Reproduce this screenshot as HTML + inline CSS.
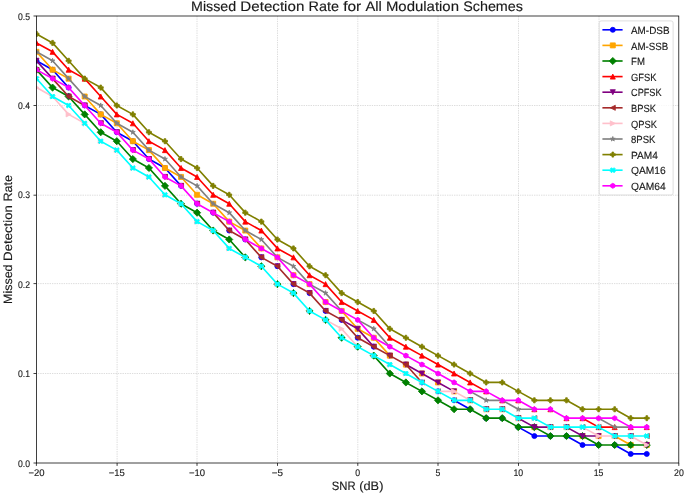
<!DOCTYPE html>
<html><head><meta charset="utf-8"><title>Missed Detection Rate for All Modulation Schemes</title>
<style>html,body{margin:0;padding:0;background:#fff;width:685px;height:493px;overflow:hidden}svg{display:block;will-change:transform;text-rendering:geometricPrecision;font-family:"Liberation Sans",sans-serif}</style></head><body>
<svg width="685" height="493" viewBox="0 0 685 493">
<rect width="685" height="493" fill="#fff"/>
<line x1="117.1" y1="16" x2="117.1" y2="463" stroke="#b0b0b0" stroke-width="0.66" stroke-dasharray="0.66 1.08"/>
<line x1="197" y1="16" x2="197" y2="463" stroke="#b0b0b0" stroke-width="0.66" stroke-dasharray="0.66 1.08"/>
<line x1="277.5" y1="16" x2="277.5" y2="463" stroke="#b0b0b0" stroke-width="0.66" stroke-dasharray="0.66 1.08"/>
<line x1="357.8" y1="16" x2="357.8" y2="463" stroke="#b0b0b0" stroke-width="0.66" stroke-dasharray="0.66 1.08"/>
<line x1="438" y1="16" x2="438" y2="463" stroke="#b0b0b0" stroke-width="0.66" stroke-dasharray="0.66 1.08"/>
<line x1="518.5" y1="16" x2="518.5" y2="463" stroke="#b0b0b0" stroke-width="0.66" stroke-dasharray="0.66 1.08"/>
<line x1="599" y1="16" x2="599" y2="463" stroke="#b0b0b0" stroke-width="0.66" stroke-dasharray="0.66 1.08"/>
<line x1="36.4" y1="373.5" x2="678.8" y2="373.5" stroke="#b0b0b0" stroke-width="0.66" stroke-dasharray="0.66 1.08"/>
<line x1="36.4" y1="283.6" x2="678.8" y2="283.6" stroke="#b0b0b0" stroke-width="0.66" stroke-dasharray="0.66 1.08"/>
<line x1="36.4" y1="195.2" x2="678.8" y2="195.2" stroke="#b0b0b0" stroke-width="0.66" stroke-dasharray="0.66 1.08"/>
<line x1="36.4" y1="105.5" x2="678.8" y2="105.5" stroke="#b0b0b0" stroke-width="0.66" stroke-dasharray="0.66 1.08"/>
<defs><clipPath id="pc"><rect x="36.4" y="16" width="642.4" height="447"/></clipPath></defs>
<g clip-path="url(#pc)">
<path d="M36.5 60.78L52.56 69.71L68.62 87.58M84.68 105.45L100.74 114.38L116.8 132.26L132.86 141.19L148.92 159.06L164.98 168L181.04 185.87M454.06 400.31L470.12 409.24M518.3 427.11L534.36 436.05L550.42 436.05M566.48 436.05L582.54 444.98L598.6 444.98M614.66 444.98L630.72 453.92L646.78 453.92" fill="none" stroke="#0000ff" stroke-width="1.64" stroke-linejoin="round" stroke-linecap="round"/>
<circle cx="36.5" cy="60.78" r="2.52" fill="#0000ff" stroke="#0000ff" stroke-width="0.82"/>
<circle cx="52.56" cy="69.71" r="2.52" fill="#0000ff" stroke="#0000ff" stroke-width="0.82"/>
<circle cx="68.62" cy="87.58" r="2.52" fill="#0000ff" stroke="#0000ff" stroke-width="0.82"/>
<circle cx="84.68" cy="105.45" r="2.52" fill="#0000ff" stroke="#0000ff" stroke-width="0.82"/>
<circle cx="100.74" cy="114.38" r="2.52" fill="#0000ff" stroke="#0000ff" stroke-width="0.82"/>
<circle cx="116.8" cy="132.26" r="2.52" fill="#0000ff" stroke="#0000ff" stroke-width="0.82"/>
<circle cx="132.86" cy="141.19" r="2.52" fill="#0000ff" stroke="#0000ff" stroke-width="0.82"/>
<circle cx="148.92" cy="159.06" r="2.52" fill="#0000ff" stroke="#0000ff" stroke-width="0.82"/>
<circle cx="164.98" cy="168" r="2.52" fill="#0000ff" stroke="#0000ff" stroke-width="0.82"/>
<circle cx="181.04" cy="185.87" r="2.52" fill="#0000ff" stroke="#0000ff" stroke-width="0.82"/>
<circle cx="197.1" cy="203.74" r="2.52" fill="#0000ff" stroke="#0000ff" stroke-width="0.82"/>
<circle cx="213.16" cy="212.67" r="2.52" fill="#0000ff" stroke="#0000ff" stroke-width="0.82"/>
<circle cx="229.22" cy="230.54" r="2.52" fill="#0000ff" stroke="#0000ff" stroke-width="0.82"/>
<circle cx="245.28" cy="239.48" r="2.52" fill="#0000ff" stroke="#0000ff" stroke-width="0.82"/>
<circle cx="261.34" cy="257.35" r="2.52" fill="#0000ff" stroke="#0000ff" stroke-width="0.82"/>
<circle cx="277.4" cy="266.28" r="2.52" fill="#0000ff" stroke="#0000ff" stroke-width="0.82"/>
<circle cx="293.46" cy="284.15" r="2.52" fill="#0000ff" stroke="#0000ff" stroke-width="0.82"/>
<circle cx="309.52" cy="293.09" r="2.52" fill="#0000ff" stroke="#0000ff" stroke-width="0.82"/>
<circle cx="325.58" cy="310.96" r="2.52" fill="#0000ff" stroke="#0000ff" stroke-width="0.82"/>
<circle cx="341.64" cy="319.89" r="2.52" fill="#0000ff" stroke="#0000ff" stroke-width="0.82"/>
<circle cx="357.7" cy="337.76" r="2.52" fill="#0000ff" stroke="#0000ff" stroke-width="0.82"/>
<circle cx="373.76" cy="346.7" r="2.52" fill="#0000ff" stroke="#0000ff" stroke-width="0.82"/>
<circle cx="389.82" cy="355.63" r="2.52" fill="#0000ff" stroke="#0000ff" stroke-width="0.82"/>
<circle cx="405.88" cy="364.57" r="2.52" fill="#0000ff" stroke="#0000ff" stroke-width="0.82"/>
<circle cx="421.94" cy="382.44" r="2.52" fill="#0000ff" stroke="#0000ff" stroke-width="0.82"/>
<circle cx="438" cy="391.37" r="2.52" fill="#0000ff" stroke="#0000ff" stroke-width="0.82"/>
<circle cx="454.06" cy="400.31" r="2.52" fill="#0000ff" stroke="#0000ff" stroke-width="0.82"/>
<circle cx="470.12" cy="409.24" r="2.52" fill="#0000ff" stroke="#0000ff" stroke-width="0.82"/>
<circle cx="486.18" cy="418.18" r="2.52" fill="#0000ff" stroke="#0000ff" stroke-width="0.82"/>
<circle cx="502.24" cy="418.18" r="2.52" fill="#0000ff" stroke="#0000ff" stroke-width="0.82"/>
<circle cx="518.3" cy="427.11" r="2.52" fill="#0000ff" stroke="#0000ff" stroke-width="0.82"/>
<circle cx="534.36" cy="436.05" r="2.52" fill="#0000ff" stroke="#0000ff" stroke-width="0.82"/>
<circle cx="550.42" cy="436.05" r="2.52" fill="#0000ff" stroke="#0000ff" stroke-width="0.82"/>
<circle cx="566.48" cy="436.05" r="2.52" fill="#0000ff" stroke="#0000ff" stroke-width="0.82"/>
<circle cx="582.54" cy="444.98" r="2.52" fill="#0000ff" stroke="#0000ff" stroke-width="0.82"/>
<circle cx="598.6" cy="444.98" r="2.52" fill="#0000ff" stroke="#0000ff" stroke-width="0.82"/>
<circle cx="614.66" cy="444.98" r="2.52" fill="#0000ff" stroke="#0000ff" stroke-width="0.82"/>
<circle cx="630.72" cy="453.92" r="2.52" fill="#0000ff" stroke="#0000ff" stroke-width="0.82"/>
<circle cx="646.78" cy="453.92" r="2.52" fill="#0000ff" stroke="#0000ff" stroke-width="0.82"/>
<path d="M36.5 51.84L52.56 69.71L68.62 78.65M84.68 96.52L100.74 114.38L116.8 123.32L132.86 141.19L148.92 150.13L164.98 168L181.04 176.93L197.1 194.8L213.16 203.74L229.22 221.61L245.28 230.54L261.34 248.41M341.64 310.96L357.7 328.83L373.76 337.76L389.82 355.63M614.66 436.05L630.72 444.98" fill="none" stroke="#ffa500" stroke-width="1.64" stroke-linejoin="round" stroke-linecap="round"/>
<path d="M33.98 49.32 39.02 49.32 39.02 54.37 33.98 54.37Z" fill="#ffa500" stroke="#ffa500" stroke-width="0.82" stroke-linejoin="miter"/>
<path d="M50.04 67.19 55.09 67.19 55.09 72.24 50.04 72.24Z" fill="#ffa500" stroke="#ffa500" stroke-width="0.82" stroke-linejoin="miter"/>
<path d="M66.09 76.12 71.15 76.12 71.15 81.17 66.09 81.17Z" fill="#ffa500" stroke="#ffa500" stroke-width="0.82" stroke-linejoin="miter"/>
<path d="M82.15 93.99 87.2 93.99 87.2 99.04 82.15 99.04Z" fill="#ffa500" stroke="#ffa500" stroke-width="0.82" stroke-linejoin="miter"/>
<path d="M98.21 111.86 103.27 111.86 103.27 116.91 98.21 116.91Z" fill="#ffa500" stroke="#ffa500" stroke-width="0.82" stroke-linejoin="miter"/>
<path d="M114.27 120.79 119.33 120.79 119.33 125.84 114.27 125.84Z" fill="#ffa500" stroke="#ffa500" stroke-width="0.82" stroke-linejoin="miter"/>
<path d="M130.33 138.67 135.38 138.67 135.38 143.72 130.33 143.72Z" fill="#ffa500" stroke="#ffa500" stroke-width="0.82" stroke-linejoin="miter"/>
<path d="M146.39 147.6 151.44 147.6 151.44 152.65 146.39 152.65Z" fill="#ffa500" stroke="#ffa500" stroke-width="0.82" stroke-linejoin="miter"/>
<path d="M162.45 165.47 167.5 165.47 167.5 170.52 162.45 170.52Z" fill="#ffa500" stroke="#ffa500" stroke-width="0.82" stroke-linejoin="miter"/>
<path d="M178.51 174.41 183.56 174.41 183.56 179.46 178.51 179.46Z" fill="#ffa500" stroke="#ffa500" stroke-width="0.82" stroke-linejoin="miter"/>
<path d="M194.57 192.28 199.62 192.28 199.62 197.33 194.57 197.33Z" fill="#ffa500" stroke="#ffa500" stroke-width="0.82" stroke-linejoin="miter"/>
<path d="M210.63 201.21 215.69 201.21 215.69 206.26 210.63 206.26Z" fill="#ffa500" stroke="#ffa500" stroke-width="0.82" stroke-linejoin="miter"/>
<path d="M226.69 219.08 231.74 219.08 231.74 224.13 226.69 224.13Z" fill="#ffa500" stroke="#ffa500" stroke-width="0.82" stroke-linejoin="miter"/>
<path d="M242.75 228.02 247.8 228.02 247.8 233.07 242.75 233.07Z" fill="#ffa500" stroke="#ffa500" stroke-width="0.82" stroke-linejoin="miter"/>
<path d="M258.81 245.89 263.86 245.89 263.86 250.94 258.81 250.94Z" fill="#ffa500" stroke="#ffa500" stroke-width="0.82" stroke-linejoin="miter"/>
<path d="M274.88 254.82 279.92 254.82 279.92 259.87 274.88 259.87Z" fill="#ffa500" stroke="#ffa500" stroke-width="0.82" stroke-linejoin="miter"/>
<path d="M290.94 272.69 295.98 272.69 295.98 277.74 290.94 277.74Z" fill="#ffa500" stroke="#ffa500" stroke-width="0.82" stroke-linejoin="miter"/>
<path d="M307 281.62 312.04 281.62 312.04 286.67 307 286.67Z" fill="#ffa500" stroke="#ffa500" stroke-width="0.82" stroke-linejoin="miter"/>
<path d="M323.06 299.5 328.1 299.5 328.1 304.55 323.06 304.55Z" fill="#ffa500" stroke="#ffa500" stroke-width="0.82" stroke-linejoin="miter"/>
<path d="M339.12 308.43 344.16 308.43 344.16 313.48 339.12 313.48Z" fill="#ffa500" stroke="#ffa500" stroke-width="0.82" stroke-linejoin="miter"/>
<path d="M355.18 326.3 360.22 326.3 360.22 331.35 355.18 331.35Z" fill="#ffa500" stroke="#ffa500" stroke-width="0.82" stroke-linejoin="miter"/>
<path d="M371.24 335.24 376.28 335.24 376.28 340.28 371.24 340.28Z" fill="#ffa500" stroke="#ffa500" stroke-width="0.82" stroke-linejoin="miter"/>
<path d="M387.3 353.11 392.34 353.11 392.34 358.15 387.3 358.15Z" fill="#ffa500" stroke="#ffa500" stroke-width="0.82" stroke-linejoin="miter"/>
<path d="M403.36 362.04 408.4 362.04 408.4 367.09 403.36 367.09Z" fill="#ffa500" stroke="#ffa500" stroke-width="0.82" stroke-linejoin="miter"/>
<path d="M419.41 370.98 424.46 370.98 424.46 376.02 419.41 376.02Z" fill="#ffa500" stroke="#ffa500" stroke-width="0.82" stroke-linejoin="miter"/>
<path d="M435.47 379.91 440.52 379.91 440.52 384.96 435.47 384.96Z" fill="#ffa500" stroke="#ffa500" stroke-width="0.82" stroke-linejoin="miter"/>
<path d="M451.53 388.85 456.58 388.85 456.58 393.89 451.53 393.89Z" fill="#ffa500" stroke="#ffa500" stroke-width="0.82" stroke-linejoin="miter"/>
<path d="M467.59 397.78 472.64 397.78 472.64 402.83 467.59 402.83Z" fill="#ffa500" stroke="#ffa500" stroke-width="0.82" stroke-linejoin="miter"/>
<path d="M483.65 406.72 488.7 406.72 488.7 411.76 483.65 411.76Z" fill="#ffa500" stroke="#ffa500" stroke-width="0.82" stroke-linejoin="miter"/>
<path d="M499.71 406.72 504.76 406.72 504.76 411.76 499.71 411.76Z" fill="#ffa500" stroke="#ffa500" stroke-width="0.82" stroke-linejoin="miter"/>
<path d="M515.77 415.65 520.82 415.65 520.82 420.7 515.77 420.7Z" fill="#ffa500" stroke="#ffa500" stroke-width="0.82" stroke-linejoin="miter"/>
<path d="M531.83 424.59 536.88 424.59 536.88 429.63 531.83 429.63Z" fill="#ffa500" stroke="#ffa500" stroke-width="0.82" stroke-linejoin="miter"/>
<path d="M547.89 424.59 552.94 424.59 552.94 429.63 547.89 429.63Z" fill="#ffa500" stroke="#ffa500" stroke-width="0.82" stroke-linejoin="miter"/>
<path d="M563.95 424.59 569 424.59 569 429.63 563.95 429.63Z" fill="#ffa500" stroke="#ffa500" stroke-width="0.82" stroke-linejoin="miter"/>
<path d="M580.01 433.52 585.06 433.52 585.06 438.57 580.01 438.57Z" fill="#ffa500" stroke="#ffa500" stroke-width="0.82" stroke-linejoin="miter"/>
<path d="M596.07 433.52 601.12 433.52 601.12 438.57 596.07 438.57Z" fill="#ffa500" stroke="#ffa500" stroke-width="0.82" stroke-linejoin="miter"/>
<path d="M612.13 433.52 617.18 433.52 617.18 438.57 612.13 438.57Z" fill="#ffa500" stroke="#ffa500" stroke-width="0.82" stroke-linejoin="miter"/>
<path d="M628.19 442.46 633.24 442.46 633.24 447.5 628.19 447.5Z" fill="#ffa500" stroke="#ffa500" stroke-width="0.82" stroke-linejoin="miter"/>
<path d="M644.25 442.46 649.3 442.46 649.3 447.5 644.25 447.5Z" fill="#ffa500" stroke="#ffa500" stroke-width="0.82" stroke-linejoin="miter"/>
<path d="M36.5 69.71L52.56 87.58L68.62 96.52L84.68 114.38L100.74 132.26L116.8 141.19L132.86 159.06L148.92 168L164.98 185.87L181.04 203.74L197.1 212.67L213.16 230.54L229.22 239.48L245.28 257.35M373.76 355.63L389.82 373.5L405.88 382.44L421.94 391.37L438 400.31L454.06 409.24L470.12 409.24L486.18 418.18L502.24 418.18L518.3 427.11L534.36 427.11L550.42 436.05L566.48 436.05L582.54 436.05L598.6 444.98L614.66 444.98L630.72 444.98L646.78 444.98" fill="none" stroke="#008000" stroke-width="1.64" stroke-linejoin="round" stroke-linecap="round"/>
<path d="M36.5 66.14 40.07 69.71 36.5 73.28 32.93 69.71Z" fill="#008000" stroke="#008000" stroke-width="0.82" stroke-linejoin="miter"/>
<path d="M52.56 84.01 56.13 87.58 52.56 91.15 48.99 87.58Z" fill="#008000" stroke="#008000" stroke-width="0.82" stroke-linejoin="miter"/>
<path d="M68.62 92.94 72.19 96.52 68.62 100.09 65.05 96.52Z" fill="#008000" stroke="#008000" stroke-width="0.82" stroke-linejoin="miter"/>
<path d="M84.68 110.81 88.25 114.38 84.68 117.96 81.11 114.38Z" fill="#008000" stroke="#008000" stroke-width="0.82" stroke-linejoin="miter"/>
<path d="M100.74 128.68 104.31 132.26 100.74 135.83 97.17 132.26Z" fill="#008000" stroke="#008000" stroke-width="0.82" stroke-linejoin="miter"/>
<path d="M116.8 137.62 120.37 141.19 116.8 144.76 113.23 141.19Z" fill="#008000" stroke="#008000" stroke-width="0.82" stroke-linejoin="miter"/>
<path d="M132.86 155.49 136.43 159.06 132.86 162.63 129.29 159.06Z" fill="#008000" stroke="#008000" stroke-width="0.82" stroke-linejoin="miter"/>
<path d="M148.92 164.42 152.49 168 148.92 171.57 145.35 168Z" fill="#008000" stroke="#008000" stroke-width="0.82" stroke-linejoin="miter"/>
<path d="M164.98 182.29 168.55 185.87 164.98 189.44 161.41 185.87Z" fill="#008000" stroke="#008000" stroke-width="0.82" stroke-linejoin="miter"/>
<path d="M181.04 200.16 184.61 203.74 181.04 207.31 177.47 203.74Z" fill="#008000" stroke="#008000" stroke-width="0.82" stroke-linejoin="miter"/>
<path d="M197.1 209.1 200.67 212.67 197.1 216.24 193.53 212.67Z" fill="#008000" stroke="#008000" stroke-width="0.82" stroke-linejoin="miter"/>
<path d="M213.16 226.97 216.73 230.54 213.16 234.11 209.59 230.54Z" fill="#008000" stroke="#008000" stroke-width="0.82" stroke-linejoin="miter"/>
<path d="M229.22 235.9 232.79 239.48 229.22 243.05 225.65 239.48Z" fill="#008000" stroke="#008000" stroke-width="0.82" stroke-linejoin="miter"/>
<path d="M245.28 253.77 248.85 257.35 245.28 260.92 241.71 257.35Z" fill="#008000" stroke="#008000" stroke-width="0.82" stroke-linejoin="miter"/>
<path d="M261.34 262.71 264.91 266.28 261.34 269.85 257.77 266.28Z" fill="#008000" stroke="#008000" stroke-width="0.82" stroke-linejoin="miter"/>
<path d="M277.4 280.58 280.97 284.15 277.4 287.72 273.83 284.15Z" fill="#008000" stroke="#008000" stroke-width="0.82" stroke-linejoin="miter"/>
<path d="M293.46 289.51 297.03 293.09 293.46 296.66 289.89 293.09Z" fill="#008000" stroke="#008000" stroke-width="0.82" stroke-linejoin="miter"/>
<path d="M309.52 307.38 313.09 310.96 309.52 314.53 305.95 310.96Z" fill="#008000" stroke="#008000" stroke-width="0.82" stroke-linejoin="miter"/>
<path d="M325.58 316.32 329.15 319.89 325.58 323.46 322.01 319.89Z" fill="#008000" stroke="#008000" stroke-width="0.82" stroke-linejoin="miter"/>
<path d="M341.64 334.19 345.21 337.76 341.64 341.33 338.07 337.76Z" fill="#008000" stroke="#008000" stroke-width="0.82" stroke-linejoin="miter"/>
<path d="M357.7 343.12 361.27 346.7 357.7 350.27 354.13 346.7Z" fill="#008000" stroke="#008000" stroke-width="0.82" stroke-linejoin="miter"/>
<path d="M373.76 352.06 377.33 355.63 373.76 359.2 370.19 355.63Z" fill="#008000" stroke="#008000" stroke-width="0.82" stroke-linejoin="miter"/>
<path d="M389.82 369.93 393.39 373.5 389.82 377.07 386.25 373.5Z" fill="#008000" stroke="#008000" stroke-width="0.82" stroke-linejoin="miter"/>
<path d="M405.88 378.86 409.45 382.44 405.88 386.01 402.31 382.44Z" fill="#008000" stroke="#008000" stroke-width="0.82" stroke-linejoin="miter"/>
<path d="M421.94 387.8 425.51 391.37 421.94 394.94 418.37 391.37Z" fill="#008000" stroke="#008000" stroke-width="0.82" stroke-linejoin="miter"/>
<path d="M438 396.73 441.57 400.31 438 403.88 434.43 400.31Z" fill="#008000" stroke="#008000" stroke-width="0.82" stroke-linejoin="miter"/>
<path d="M454.06 405.67 457.63 409.24 454.06 412.81 450.49 409.24Z" fill="#008000" stroke="#008000" stroke-width="0.82" stroke-linejoin="miter"/>
<path d="M470.12 405.67 473.69 409.24 470.12 412.81 466.55 409.24Z" fill="#008000" stroke="#008000" stroke-width="0.82" stroke-linejoin="miter"/>
<path d="M486.18 414.6 489.75 418.18 486.18 421.75 482.61 418.18Z" fill="#008000" stroke="#008000" stroke-width="0.82" stroke-linejoin="miter"/>
<path d="M502.24 414.6 505.81 418.18 502.24 421.75 498.67 418.18Z" fill="#008000" stroke="#008000" stroke-width="0.82" stroke-linejoin="miter"/>
<path d="M518.3 423.54 521.87 427.11 518.3 430.68 514.73 427.11Z" fill="#008000" stroke="#008000" stroke-width="0.82" stroke-linejoin="miter"/>
<path d="M534.36 423.54 537.93 427.11 534.36 430.68 530.79 427.11Z" fill="#008000" stroke="#008000" stroke-width="0.82" stroke-linejoin="miter"/>
<path d="M550.42 432.47 553.99 436.05 550.42 439.62 546.85 436.05Z" fill="#008000" stroke="#008000" stroke-width="0.82" stroke-linejoin="miter"/>
<path d="M566.48 432.47 570.05 436.05 566.48 439.62 562.91 436.05Z" fill="#008000" stroke="#008000" stroke-width="0.82" stroke-linejoin="miter"/>
<path d="M582.54 432.47 586.11 436.05 582.54 439.62 578.97 436.05Z" fill="#008000" stroke="#008000" stroke-width="0.82" stroke-linejoin="miter"/>
<path d="M598.6 441.41 602.17 444.98 598.6 448.55 595.03 444.98Z" fill="#008000" stroke="#008000" stroke-width="0.82" stroke-linejoin="miter"/>
<path d="M614.66 441.41 618.23 444.98 614.66 448.55 611.09 444.98Z" fill="#008000" stroke="#008000" stroke-width="0.82" stroke-linejoin="miter"/>
<path d="M630.72 441.41 634.29 444.98 630.72 448.55 627.15 444.98Z" fill="#008000" stroke="#008000" stroke-width="0.82" stroke-linejoin="miter"/>
<path d="M646.78 441.41 650.35 444.98 646.78 448.55 643.21 444.98Z" fill="#008000" stroke="#008000" stroke-width="0.82" stroke-linejoin="miter"/>
<path d="M36.5 42.91L52.56 51.84L68.62 69.71L84.68 78.65L100.74 96.52L116.8 114.38L132.86 123.32L148.92 141.19L164.98 150.13L181.04 168L197.1 176.93L213.16 194.8L229.22 203.74L245.28 221.61L261.34 230.54L277.4 248.41L293.46 257.35L309.52 275.22L325.58 284.15L341.64 302.02L357.7 310.96L373.76 319.89L389.82 337.76L405.88 346.7L421.94 355.63L438 364.57L454.06 373.5L470.12 382.44L486.18 391.37M582.54 418.18L598.6 427.11L614.66 427.11" fill="none" stroke="#ff0000" stroke-width="1.64" stroke-linejoin="round" stroke-linecap="round"/>
<path d="M36.5 40.38 33.98 45.43 39.02 45.43Z" fill="#ff0000" stroke="#ff0000" stroke-width="0.82" stroke-linejoin="miter"/>
<path d="M52.56 49.32 50.04 54.37 55.09 54.37Z" fill="#ff0000" stroke="#ff0000" stroke-width="0.82" stroke-linejoin="miter"/>
<path d="M68.62 67.19 66.09 72.24 71.15 72.24Z" fill="#ff0000" stroke="#ff0000" stroke-width="0.82" stroke-linejoin="miter"/>
<path d="M84.68 76.12 82.15 81.17 87.2 81.17Z" fill="#ff0000" stroke="#ff0000" stroke-width="0.82" stroke-linejoin="miter"/>
<path d="M100.74 93.99 98.21 99.04 103.27 99.04Z" fill="#ff0000" stroke="#ff0000" stroke-width="0.82" stroke-linejoin="miter"/>
<path d="M116.8 111.86 114.27 116.91 119.33 116.91Z" fill="#ff0000" stroke="#ff0000" stroke-width="0.82" stroke-linejoin="miter"/>
<path d="M132.86 120.79 130.33 125.84 135.38 125.84Z" fill="#ff0000" stroke="#ff0000" stroke-width="0.82" stroke-linejoin="miter"/>
<path d="M148.92 138.67 146.39 143.72 151.44 143.72Z" fill="#ff0000" stroke="#ff0000" stroke-width="0.82" stroke-linejoin="miter"/>
<path d="M164.98 147.6 162.45 152.65 167.5 152.65Z" fill="#ff0000" stroke="#ff0000" stroke-width="0.82" stroke-linejoin="miter"/>
<path d="M181.04 165.47 178.51 170.52 183.56 170.52Z" fill="#ff0000" stroke="#ff0000" stroke-width="0.82" stroke-linejoin="miter"/>
<path d="M197.1 174.41 194.57 179.46 199.62 179.46Z" fill="#ff0000" stroke="#ff0000" stroke-width="0.82" stroke-linejoin="miter"/>
<path d="M213.16 192.28 210.63 197.33 215.69 197.33Z" fill="#ff0000" stroke="#ff0000" stroke-width="0.82" stroke-linejoin="miter"/>
<path d="M229.22 201.21 226.69 206.26 231.74 206.26Z" fill="#ff0000" stroke="#ff0000" stroke-width="0.82" stroke-linejoin="miter"/>
<path d="M245.28 219.08 242.75 224.13 247.8 224.13Z" fill="#ff0000" stroke="#ff0000" stroke-width="0.82" stroke-linejoin="miter"/>
<path d="M261.34 228.02 258.81 233.07 263.86 233.07Z" fill="#ff0000" stroke="#ff0000" stroke-width="0.82" stroke-linejoin="miter"/>
<path d="M277.4 245.89 274.88 250.94 279.92 250.94Z" fill="#ff0000" stroke="#ff0000" stroke-width="0.82" stroke-linejoin="miter"/>
<path d="M293.46 254.82 290.94 259.87 295.98 259.87Z" fill="#ff0000" stroke="#ff0000" stroke-width="0.82" stroke-linejoin="miter"/>
<path d="M309.52 272.69 307 277.74 312.04 277.74Z" fill="#ff0000" stroke="#ff0000" stroke-width="0.82" stroke-linejoin="miter"/>
<path d="M325.58 281.62 323.06 286.67 328.1 286.67Z" fill="#ff0000" stroke="#ff0000" stroke-width="0.82" stroke-linejoin="miter"/>
<path d="M341.64 299.5 339.12 304.55 344.16 304.55Z" fill="#ff0000" stroke="#ff0000" stroke-width="0.82" stroke-linejoin="miter"/>
<path d="M357.7 308.43 355.18 313.48 360.22 313.48Z" fill="#ff0000" stroke="#ff0000" stroke-width="0.82" stroke-linejoin="miter"/>
<path d="M373.76 317.37 371.24 322.41 376.28 322.41Z" fill="#ff0000" stroke="#ff0000" stroke-width="0.82" stroke-linejoin="miter"/>
<path d="M389.82 335.24 387.3 340.28 392.34 340.28Z" fill="#ff0000" stroke="#ff0000" stroke-width="0.82" stroke-linejoin="miter"/>
<path d="M405.88 344.17 403.36 349.22 408.4 349.22Z" fill="#ff0000" stroke="#ff0000" stroke-width="0.82" stroke-linejoin="miter"/>
<path d="M421.94 353.11 419.41 358.15 424.46 358.15Z" fill="#ff0000" stroke="#ff0000" stroke-width="0.82" stroke-linejoin="miter"/>
<path d="M438 362.04 435.47 367.09 440.52 367.09Z" fill="#ff0000" stroke="#ff0000" stroke-width="0.82" stroke-linejoin="miter"/>
<path d="M454.06 370.98 451.53 376.02 456.58 376.02Z" fill="#ff0000" stroke="#ff0000" stroke-width="0.82" stroke-linejoin="miter"/>
<path d="M470.12 379.91 467.59 384.96 472.64 384.96Z" fill="#ff0000" stroke="#ff0000" stroke-width="0.82" stroke-linejoin="miter"/>
<path d="M486.18 388.85 483.65 393.89 488.7 393.89Z" fill="#ff0000" stroke="#ff0000" stroke-width="0.82" stroke-linejoin="miter"/>
<path d="M502.24 397.78 499.71 402.83 504.76 402.83Z" fill="#ff0000" stroke="#ff0000" stroke-width="0.82" stroke-linejoin="miter"/>
<path d="M518.3 397.78 515.77 402.83 520.82 402.83Z" fill="#ff0000" stroke="#ff0000" stroke-width="0.82" stroke-linejoin="miter"/>
<path d="M534.36 406.72 531.83 411.76 536.88 411.76Z" fill="#ff0000" stroke="#ff0000" stroke-width="0.82" stroke-linejoin="miter"/>
<path d="M550.42 406.72 547.89 411.76 552.94 411.76Z" fill="#ff0000" stroke="#ff0000" stroke-width="0.82" stroke-linejoin="miter"/>
<path d="M566.48 415.65 563.95 420.7 569 420.7Z" fill="#ff0000" stroke="#ff0000" stroke-width="0.82" stroke-linejoin="miter"/>
<path d="M582.54 415.65 580.01 420.7 585.06 420.7Z" fill="#ff0000" stroke="#ff0000" stroke-width="0.82" stroke-linejoin="miter"/>
<path d="M598.6 424.59 596.07 429.63 601.12 429.63Z" fill="#ff0000" stroke="#ff0000" stroke-width="0.82" stroke-linejoin="miter"/>
<path d="M614.66 424.59 612.13 429.63 617.18 429.63Z" fill="#ff0000" stroke="#ff0000" stroke-width="0.82" stroke-linejoin="miter"/>
<path d="M630.72 424.59 628.19 429.63 633.24 429.63Z" fill="#ff0000" stroke="#ff0000" stroke-width="0.82" stroke-linejoin="miter"/>
<path d="M646.78 424.59 644.25 429.63 649.3 429.63Z" fill="#ff0000" stroke="#ff0000" stroke-width="0.82" stroke-linejoin="miter"/>
<path d="M36.5 60.78L52.56 78.65M341.64 319.89L357.7 328.83L373.76 346.7M405.88 364.57L421.94 373.5L438 382.44L454.06 391.37M518.3 418.18L534.36 427.11L550.42 427.11M566.48 427.11L582.54 436.05L598.6 436.05" fill="none" stroke="#800080" stroke-width="1.64" stroke-linejoin="round" stroke-linecap="round"/>
<path d="M36.5 63.3 33.98 58.25 39.02 58.25Z" fill="#800080" stroke="#800080" stroke-width="0.82" stroke-linejoin="miter"/>
<path d="M52.56 81.17 50.04 76.12 55.09 76.12Z" fill="#800080" stroke="#800080" stroke-width="0.82" stroke-linejoin="miter"/>
<path d="M68.62 99.04 66.09 93.99 71.15 93.99Z" fill="#800080" stroke="#800080" stroke-width="0.82" stroke-linejoin="miter"/>
<path d="M84.68 107.97 82.15 102.92 87.2 102.92Z" fill="#800080" stroke="#800080" stroke-width="0.82" stroke-linejoin="miter"/>
<path d="M100.74 125.84 98.21 120.79 103.27 120.79Z" fill="#800080" stroke="#800080" stroke-width="0.82" stroke-linejoin="miter"/>
<path d="M116.8 134.78 114.27 129.73 119.33 129.73Z" fill="#800080" stroke="#800080" stroke-width="0.82" stroke-linejoin="miter"/>
<path d="M132.86 152.65 130.33 147.6 135.38 147.6Z" fill="#800080" stroke="#800080" stroke-width="0.82" stroke-linejoin="miter"/>
<path d="M148.92 161.59 146.39 156.53 151.44 156.53Z" fill="#800080" stroke="#800080" stroke-width="0.82" stroke-linejoin="miter"/>
<path d="M164.98 179.46 162.45 174.41 167.5 174.41Z" fill="#800080" stroke="#800080" stroke-width="0.82" stroke-linejoin="miter"/>
<path d="M181.04 188.39 178.51 183.34 183.56 183.34Z" fill="#800080" stroke="#800080" stroke-width="0.82" stroke-linejoin="miter"/>
<path d="M197.1 206.26 194.57 201.21 199.62 201.21Z" fill="#800080" stroke="#800080" stroke-width="0.82" stroke-linejoin="miter"/>
<path d="M213.16 215.19 210.63 210.14 215.69 210.14Z" fill="#800080" stroke="#800080" stroke-width="0.82" stroke-linejoin="miter"/>
<path d="M229.22 233.07 226.69 228.02 231.74 228.02Z" fill="#800080" stroke="#800080" stroke-width="0.82" stroke-linejoin="miter"/>
<path d="M245.28 242 242.75 236.95 247.8 236.95Z" fill="#800080" stroke="#800080" stroke-width="0.82" stroke-linejoin="miter"/>
<path d="M261.34 259.87 258.81 254.82 263.86 254.82Z" fill="#800080" stroke="#800080" stroke-width="0.82" stroke-linejoin="miter"/>
<path d="M277.4 268.81 274.88 263.76 279.92 263.76Z" fill="#800080" stroke="#800080" stroke-width="0.82" stroke-linejoin="miter"/>
<path d="M293.46 286.67 290.94 281.62 295.98 281.62Z" fill="#800080" stroke="#800080" stroke-width="0.82" stroke-linejoin="miter"/>
<path d="M309.52 295.61 307 290.56 312.04 290.56Z" fill="#800080" stroke="#800080" stroke-width="0.82" stroke-linejoin="miter"/>
<path d="M325.58 313.48 323.06 308.43 328.1 308.43Z" fill="#800080" stroke="#800080" stroke-width="0.82" stroke-linejoin="miter"/>
<path d="M341.64 322.41 339.12 317.37 344.16 317.37Z" fill="#800080" stroke="#800080" stroke-width="0.82" stroke-linejoin="miter"/>
<path d="M357.7 331.35 355.18 326.3 360.22 326.3Z" fill="#800080" stroke="#800080" stroke-width="0.82" stroke-linejoin="miter"/>
<path d="M373.76 349.22 371.24 344.17 376.28 344.17Z" fill="#800080" stroke="#800080" stroke-width="0.82" stroke-linejoin="miter"/>
<path d="M389.82 358.15 387.3 353.11 392.34 353.11Z" fill="#800080" stroke="#800080" stroke-width="0.82" stroke-linejoin="miter"/>
<path d="M405.88 367.09 403.36 362.04 408.4 362.04Z" fill="#800080" stroke="#800080" stroke-width="0.82" stroke-linejoin="miter"/>
<path d="M421.94 376.02 419.41 370.98 424.46 370.98Z" fill="#800080" stroke="#800080" stroke-width="0.82" stroke-linejoin="miter"/>
<path d="M438 384.96 435.47 379.91 440.52 379.91Z" fill="#800080" stroke="#800080" stroke-width="0.82" stroke-linejoin="miter"/>
<path d="M454.06 393.89 451.53 388.85 456.58 388.85Z" fill="#800080" stroke="#800080" stroke-width="0.82" stroke-linejoin="miter"/>
<path d="M470.12 402.83 467.59 397.78 472.64 397.78Z" fill="#800080" stroke="#800080" stroke-width="0.82" stroke-linejoin="miter"/>
<path d="M486.18 411.76 483.65 406.72 488.7 406.72Z" fill="#800080" stroke="#800080" stroke-width="0.82" stroke-linejoin="miter"/>
<path d="M502.24 411.76 499.71 406.72 504.76 406.72Z" fill="#800080" stroke="#800080" stroke-width="0.82" stroke-linejoin="miter"/>
<path d="M518.3 420.7 515.77 415.65 520.82 415.65Z" fill="#800080" stroke="#800080" stroke-width="0.82" stroke-linejoin="miter"/>
<path d="M534.36 429.63 531.83 424.59 536.88 424.59Z" fill="#800080" stroke="#800080" stroke-width="0.82" stroke-linejoin="miter"/>
<path d="M550.42 429.63 547.89 424.59 552.94 424.59Z" fill="#800080" stroke="#800080" stroke-width="0.82" stroke-linejoin="miter"/>
<path d="M566.48 429.63 563.95 424.59 569 424.59Z" fill="#800080" stroke="#800080" stroke-width="0.82" stroke-linejoin="miter"/>
<path d="M582.54 438.57 580.01 433.52 585.06 433.52Z" fill="#800080" stroke="#800080" stroke-width="0.82" stroke-linejoin="miter"/>
<path d="M598.6 438.57 596.07 433.52 601.12 433.52Z" fill="#800080" stroke="#800080" stroke-width="0.82" stroke-linejoin="miter"/>
<path d="M614.66 438.57 612.13 433.52 617.18 433.52Z" fill="#800080" stroke="#800080" stroke-width="0.82" stroke-linejoin="miter"/>
<path d="M630.72 438.57 628.19 433.52 633.24 433.52Z" fill="#800080" stroke="#800080" stroke-width="0.82" stroke-linejoin="miter"/>
<path d="M646.78 447.5 644.25 442.46 649.3 442.46Z" fill="#800080" stroke="#800080" stroke-width="0.82" stroke-linejoin="miter"/>
<path d="M52.56 78.65L68.62 96.52L84.68 105.45M213.16 212.67L229.22 230.54L245.28 239.48L261.34 257.35L277.4 266.28L293.46 284.15L309.52 293.09L325.58 310.96L341.64 319.89L357.7 337.76L373.76 346.7L389.82 355.63L405.88 364.57L421.94 382.44" fill="none" stroke="#a52a2a" stroke-width="1.64" stroke-linejoin="round" stroke-linecap="round"/>
<path d="M33.98 69.71 39.02 67.19 39.02 72.24Z" fill="#a52a2a" stroke="#a52a2a" stroke-width="0.82" stroke-linejoin="miter"/>
<path d="M50.04 78.65 55.09 76.12 55.09 81.17Z" fill="#a52a2a" stroke="#a52a2a" stroke-width="0.82" stroke-linejoin="miter"/>
<path d="M66.09 96.52 71.15 93.99 71.15 99.04Z" fill="#a52a2a" stroke="#a52a2a" stroke-width="0.82" stroke-linejoin="miter"/>
<path d="M82.15 105.45 87.2 102.92 87.2 107.97Z" fill="#a52a2a" stroke="#a52a2a" stroke-width="0.82" stroke-linejoin="miter"/>
<path d="M98.21 123.32 103.27 120.79 103.27 125.84Z" fill="#a52a2a" stroke="#a52a2a" stroke-width="0.82" stroke-linejoin="miter"/>
<path d="M114.27 132.26 119.33 129.73 119.33 134.78Z" fill="#a52a2a" stroke="#a52a2a" stroke-width="0.82" stroke-linejoin="miter"/>
<path d="M130.33 150.13 135.38 147.6 135.38 152.65Z" fill="#a52a2a" stroke="#a52a2a" stroke-width="0.82" stroke-linejoin="miter"/>
<path d="M146.39 159.06 151.44 156.53 151.44 161.59Z" fill="#a52a2a" stroke="#a52a2a" stroke-width="0.82" stroke-linejoin="miter"/>
<path d="M162.45 176.93 167.5 174.41 167.5 179.46Z" fill="#a52a2a" stroke="#a52a2a" stroke-width="0.82" stroke-linejoin="miter"/>
<path d="M178.51 185.87 183.56 183.34 183.56 188.39Z" fill="#a52a2a" stroke="#a52a2a" stroke-width="0.82" stroke-linejoin="miter"/>
<path d="M194.57 203.74 199.62 201.21 199.62 206.26Z" fill="#a52a2a" stroke="#a52a2a" stroke-width="0.82" stroke-linejoin="miter"/>
<path d="M210.63 212.67 215.69 210.14 215.69 215.19Z" fill="#a52a2a" stroke="#a52a2a" stroke-width="0.82" stroke-linejoin="miter"/>
<path d="M226.69 230.54 231.74 228.02 231.74 233.07Z" fill="#a52a2a" stroke="#a52a2a" stroke-width="0.82" stroke-linejoin="miter"/>
<path d="M242.75 239.48 247.8 236.95 247.8 242Z" fill="#a52a2a" stroke="#a52a2a" stroke-width="0.82" stroke-linejoin="miter"/>
<path d="M258.81 257.35 263.86 254.82 263.86 259.87Z" fill="#a52a2a" stroke="#a52a2a" stroke-width="0.82" stroke-linejoin="miter"/>
<path d="M274.88 266.28 279.92 263.76 279.92 268.81Z" fill="#a52a2a" stroke="#a52a2a" stroke-width="0.82" stroke-linejoin="miter"/>
<path d="M290.94 284.15 295.98 281.62 295.98 286.67Z" fill="#a52a2a" stroke="#a52a2a" stroke-width="0.82" stroke-linejoin="miter"/>
<path d="M307 293.09 312.04 290.56 312.04 295.61Z" fill="#a52a2a" stroke="#a52a2a" stroke-width="0.82" stroke-linejoin="miter"/>
<path d="M323.06 310.96 328.1 308.43 328.1 313.48Z" fill="#a52a2a" stroke="#a52a2a" stroke-width="0.82" stroke-linejoin="miter"/>
<path d="M339.12 319.89 344.16 317.37 344.16 322.41Z" fill="#a52a2a" stroke="#a52a2a" stroke-width="0.82" stroke-linejoin="miter"/>
<path d="M355.18 337.76 360.22 335.24 360.22 340.28Z" fill="#a52a2a" stroke="#a52a2a" stroke-width="0.82" stroke-linejoin="miter"/>
<path d="M371.24 346.7 376.28 344.17 376.28 349.22Z" fill="#a52a2a" stroke="#a52a2a" stroke-width="0.82" stroke-linejoin="miter"/>
<path d="M387.3 355.63 392.34 353.11 392.34 358.15Z" fill="#a52a2a" stroke="#a52a2a" stroke-width="0.82" stroke-linejoin="miter"/>
<path d="M403.36 364.57 408.4 362.04 408.4 367.09Z" fill="#a52a2a" stroke="#a52a2a" stroke-width="0.82" stroke-linejoin="miter"/>
<path d="M419.41 382.44 424.46 379.91 424.46 384.96Z" fill="#a52a2a" stroke="#a52a2a" stroke-width="0.82" stroke-linejoin="miter"/>
<path d="M435.47 391.37 440.52 388.85 440.52 393.89Z" fill="#a52a2a" stroke="#a52a2a" stroke-width="0.82" stroke-linejoin="miter"/>
<path d="M451.53 400.31 456.58 397.78 456.58 402.83Z" fill="#a52a2a" stroke="#a52a2a" stroke-width="0.82" stroke-linejoin="miter"/>
<path d="M467.59 400.31 472.64 397.78 472.64 402.83Z" fill="#a52a2a" stroke="#a52a2a" stroke-width="0.82" stroke-linejoin="miter"/>
<path d="M483.65 409.24 488.7 406.72 488.7 411.76Z" fill="#a52a2a" stroke="#a52a2a" stroke-width="0.82" stroke-linejoin="miter"/>
<path d="M499.71 409.24 504.76 406.72 504.76 411.76Z" fill="#a52a2a" stroke="#a52a2a" stroke-width="0.82" stroke-linejoin="miter"/>
<path d="M515.77 418.18 520.82 415.65 520.82 420.7Z" fill="#a52a2a" stroke="#a52a2a" stroke-width="0.82" stroke-linejoin="miter"/>
<path d="M531.83 418.18 536.88 415.65 536.88 420.7Z" fill="#a52a2a" stroke="#a52a2a" stroke-width="0.82" stroke-linejoin="miter"/>
<path d="M547.89 427.11 552.94 424.59 552.94 429.63Z" fill="#a52a2a" stroke="#a52a2a" stroke-width="0.82" stroke-linejoin="miter"/>
<path d="M563.95 427.11 569 424.59 569 429.63Z" fill="#a52a2a" stroke="#a52a2a" stroke-width="0.82" stroke-linejoin="miter"/>
<path d="M580.01 427.11 585.06 424.59 585.06 429.63Z" fill="#a52a2a" stroke="#a52a2a" stroke-width="0.82" stroke-linejoin="miter"/>
<path d="M596.07 427.11 601.12 424.59 601.12 429.63Z" fill="#a52a2a" stroke="#a52a2a" stroke-width="0.82" stroke-linejoin="miter"/>
<path d="M612.13 436.05 617.18 433.52 617.18 438.57Z" fill="#a52a2a" stroke="#a52a2a" stroke-width="0.82" stroke-linejoin="miter"/>
<path d="M628.19 436.05 633.24 433.52 633.24 438.57Z" fill="#a52a2a" stroke="#a52a2a" stroke-width="0.82" stroke-linejoin="miter"/>
<path d="M644.25 436.05 649.3 433.52 649.3 438.57Z" fill="#a52a2a" stroke="#a52a2a" stroke-width="0.82" stroke-linejoin="miter"/>
<path d="M36.5 87.58L52.56 96.52L68.62 114.38L84.68 123.32M325.58 319.89L341.64 328.83L357.7 346.7M438 391.37L454.06 391.37L470.12 400.31M582.54 427.11L598.6 436.05L614.66 436.05M630.72 436.05L646.78 444.98" fill="none" stroke="#ffc0cb" stroke-width="1.64" stroke-linejoin="round" stroke-linecap="round"/>
<path d="M39.02 87.58 33.98 85.06 33.98 90.11Z" fill="#ffc0cb" stroke="#ffc0cb" stroke-width="0.82" stroke-linejoin="miter"/>
<path d="M55.09 96.52 50.04 93.99 50.04 99.04Z" fill="#ffc0cb" stroke="#ffc0cb" stroke-width="0.82" stroke-linejoin="miter"/>
<path d="M71.15 114.38 66.09 111.86 66.09 116.91Z" fill="#ffc0cb" stroke="#ffc0cb" stroke-width="0.82" stroke-linejoin="miter"/>
<path d="M87.2 123.32 82.15 120.79 82.15 125.84Z" fill="#ffc0cb" stroke="#ffc0cb" stroke-width="0.82" stroke-linejoin="miter"/>
<path d="M103.27 141.19 98.21 138.67 98.21 143.72Z" fill="#ffc0cb" stroke="#ffc0cb" stroke-width="0.82" stroke-linejoin="miter"/>
<path d="M119.33 150.13 114.27 147.6 114.27 152.65Z" fill="#ffc0cb" stroke="#ffc0cb" stroke-width="0.82" stroke-linejoin="miter"/>
<path d="M135.38 168 130.33 165.47 130.33 170.52Z" fill="#ffc0cb" stroke="#ffc0cb" stroke-width="0.82" stroke-linejoin="miter"/>
<path d="M151.44 176.93 146.39 174.41 146.39 179.46Z" fill="#ffc0cb" stroke="#ffc0cb" stroke-width="0.82" stroke-linejoin="miter"/>
<path d="M167.5 194.8 162.45 192.28 162.45 197.33Z" fill="#ffc0cb" stroke="#ffc0cb" stroke-width="0.82" stroke-linejoin="miter"/>
<path d="M183.56 203.74 178.51 201.21 178.51 206.26Z" fill="#ffc0cb" stroke="#ffc0cb" stroke-width="0.82" stroke-linejoin="miter"/>
<path d="M199.62 221.61 194.57 219.08 194.57 224.13Z" fill="#ffc0cb" stroke="#ffc0cb" stroke-width="0.82" stroke-linejoin="miter"/>
<path d="M215.69 230.54 210.63 228.02 210.63 233.07Z" fill="#ffc0cb" stroke="#ffc0cb" stroke-width="0.82" stroke-linejoin="miter"/>
<path d="M231.74 248.41 226.69 245.89 226.69 250.94Z" fill="#ffc0cb" stroke="#ffc0cb" stroke-width="0.82" stroke-linejoin="miter"/>
<path d="M247.8 257.35 242.75 254.82 242.75 259.87Z" fill="#ffc0cb" stroke="#ffc0cb" stroke-width="0.82" stroke-linejoin="miter"/>
<path d="M263.86 266.28 258.81 263.76 258.81 268.81Z" fill="#ffc0cb" stroke="#ffc0cb" stroke-width="0.82" stroke-linejoin="miter"/>
<path d="M279.92 284.15 274.88 281.62 274.88 286.67Z" fill="#ffc0cb" stroke="#ffc0cb" stroke-width="0.82" stroke-linejoin="miter"/>
<path d="M295.98 293.09 290.94 290.56 290.94 295.61Z" fill="#ffc0cb" stroke="#ffc0cb" stroke-width="0.82" stroke-linejoin="miter"/>
<path d="M312.04 310.96 307 308.43 307 313.48Z" fill="#ffc0cb" stroke="#ffc0cb" stroke-width="0.82" stroke-linejoin="miter"/>
<path d="M328.1 319.89 323.06 317.37 323.06 322.41Z" fill="#ffc0cb" stroke="#ffc0cb" stroke-width="0.82" stroke-linejoin="miter"/>
<path d="M344.16 328.83 339.12 326.3 339.12 331.35Z" fill="#ffc0cb" stroke="#ffc0cb" stroke-width="0.82" stroke-linejoin="miter"/>
<path d="M360.22 346.7 355.18 344.17 355.18 349.22Z" fill="#ffc0cb" stroke="#ffc0cb" stroke-width="0.82" stroke-linejoin="miter"/>
<path d="M376.28 355.63 371.24 353.11 371.24 358.15Z" fill="#ffc0cb" stroke="#ffc0cb" stroke-width="0.82" stroke-linejoin="miter"/>
<path d="M392.34 364.57 387.3 362.04 387.3 367.09Z" fill="#ffc0cb" stroke="#ffc0cb" stroke-width="0.82" stroke-linejoin="miter"/>
<path d="M408.4 373.5 403.36 370.98 403.36 376.02Z" fill="#ffc0cb" stroke="#ffc0cb" stroke-width="0.82" stroke-linejoin="miter"/>
<path d="M424.46 382.44 419.41 379.91 419.41 384.96Z" fill="#ffc0cb" stroke="#ffc0cb" stroke-width="0.82" stroke-linejoin="miter"/>
<path d="M440.52 391.37 435.47 388.85 435.47 393.89Z" fill="#ffc0cb" stroke="#ffc0cb" stroke-width="0.82" stroke-linejoin="miter"/>
<path d="M456.58 391.37 451.53 388.85 451.53 393.89Z" fill="#ffc0cb" stroke="#ffc0cb" stroke-width="0.82" stroke-linejoin="miter"/>
<path d="M472.64 400.31 467.59 397.78 467.59 402.83Z" fill="#ffc0cb" stroke="#ffc0cb" stroke-width="0.82" stroke-linejoin="miter"/>
<path d="M488.7 409.24 483.65 406.72 483.65 411.76Z" fill="#ffc0cb" stroke="#ffc0cb" stroke-width="0.82" stroke-linejoin="miter"/>
<path d="M504.76 409.24 499.71 406.72 499.71 411.76Z" fill="#ffc0cb" stroke="#ffc0cb" stroke-width="0.82" stroke-linejoin="miter"/>
<path d="M520.82 418.18 515.77 415.65 515.77 420.7Z" fill="#ffc0cb" stroke="#ffc0cb" stroke-width="0.82" stroke-linejoin="miter"/>
<path d="M536.88 418.18 531.83 415.65 531.83 420.7Z" fill="#ffc0cb" stroke="#ffc0cb" stroke-width="0.82" stroke-linejoin="miter"/>
<path d="M552.94 427.11 547.89 424.59 547.89 429.63Z" fill="#ffc0cb" stroke="#ffc0cb" stroke-width="0.82" stroke-linejoin="miter"/>
<path d="M569 427.11 563.95 424.59 563.95 429.63Z" fill="#ffc0cb" stroke="#ffc0cb" stroke-width="0.82" stroke-linejoin="miter"/>
<path d="M585.06 427.11 580.01 424.59 580.01 429.63Z" fill="#ffc0cb" stroke="#ffc0cb" stroke-width="0.82" stroke-linejoin="miter"/>
<path d="M601.12 436.05 596.07 433.52 596.07 438.57Z" fill="#ffc0cb" stroke="#ffc0cb" stroke-width="0.82" stroke-linejoin="miter"/>
<path d="M617.18 436.05 612.13 433.52 612.13 438.57Z" fill="#ffc0cb" stroke="#ffc0cb" stroke-width="0.82" stroke-linejoin="miter"/>
<path d="M633.24 436.05 628.19 433.52 628.19 438.57Z" fill="#ffc0cb" stroke="#ffc0cb" stroke-width="0.82" stroke-linejoin="miter"/>
<path d="M649.3 444.98 644.25 442.46 644.25 447.5Z" fill="#ffc0cb" stroke="#ffc0cb" stroke-width="0.82" stroke-linejoin="miter"/>
<path d="M36.5 51.84L52.56 60.78L68.62 78.65L84.68 96.52L100.74 105.45L116.8 123.32L132.86 132.26L148.92 150.13L164.98 159.06L181.04 176.93L197.1 185.87L213.16 203.74L229.22 212.67L245.28 230.54L261.34 239.48L277.4 257.35L293.46 266.28L309.52 284.15L325.58 293.09L341.64 310.96M357.7 319.89L373.76 328.83L389.82 346.7M470.12 391.37L486.18 400.31L502.24 400.31L518.3 409.24L534.36 409.24M598.6 418.18L614.66 427.11L630.72 427.11" fill="none" stroke="#808080" stroke-width="1.64" stroke-linejoin="round" stroke-linecap="round"/>
<path d="M36.5 49.32 35.93 51.06 34.1 51.06 35.58 52.14 35.02 53.88 36.5 52.8 37.98 53.88 37.42 52.14 38.9 51.06 37.07 51.06Z" fill="#808080" stroke="#808080" stroke-width="0.82" stroke-linejoin="bevel"/>
<path d="M52.56 58.25 51.99 59.99 50.16 59.99 51.64 61.07 51.08 62.82 52.56 61.74 54.04 62.82 53.48 61.07 54.96 59.99 53.13 59.99Z" fill="#808080" stroke="#808080" stroke-width="0.82" stroke-linejoin="bevel"/>
<path d="M68.62 76.12 68.05 77.86 66.22 77.86 67.7 78.94 67.14 80.69 68.62 79.61 70.1 80.69 69.54 78.94 71.02 77.86 69.19 77.86Z" fill="#808080" stroke="#808080" stroke-width="0.82" stroke-linejoin="bevel"/>
<path d="M84.68 93.99 84.11 95.73 82.28 95.73 83.76 96.81 83.2 98.56 84.68 97.48 86.16 98.56 85.6 96.81 87.08 95.73 85.25 95.73Z" fill="#808080" stroke="#808080" stroke-width="0.82" stroke-linejoin="bevel"/>
<path d="M100.74 102.92 100.17 104.67 98.34 104.67 99.82 105.75 99.26 107.49 100.74 106.41 102.22 107.49 101.66 105.75 103.14 104.67 101.31 104.67Z" fill="#808080" stroke="#808080" stroke-width="0.82" stroke-linejoin="bevel"/>
<path d="M116.8 120.79 116.23 122.54 114.4 122.54 115.88 123.62 115.32 125.36 116.8 124.28 118.28 125.36 117.72 123.62 119.2 122.54 117.37 122.54Z" fill="#808080" stroke="#808080" stroke-width="0.82" stroke-linejoin="bevel"/>
<path d="M132.86 129.73 132.29 131.47 130.46 131.47 131.94 132.55 131.38 134.3 132.86 133.22 134.34 134.3 133.78 132.55 135.26 131.47 133.43 131.47Z" fill="#808080" stroke="#808080" stroke-width="0.82" stroke-linejoin="bevel"/>
<path d="M148.92 147.6 148.35 149.34 146.52 149.34 148 150.42 147.44 152.17 148.92 151.09 150.4 152.17 149.84 150.42 151.32 149.34 149.49 149.34Z" fill="#808080" stroke="#808080" stroke-width="0.82" stroke-linejoin="bevel"/>
<path d="M164.98 156.53 164.41 158.28 162.58 158.28 164.06 159.36 163.5 161.1 164.98 160.02 166.46 161.1 165.9 159.36 167.38 158.28 165.55 158.28Z" fill="#808080" stroke="#808080" stroke-width="0.82" stroke-linejoin="bevel"/>
<path d="M181.04 174.41 180.47 176.15 178.64 176.15 180.12 177.23 179.56 178.97 181.04 177.89 182.52 178.97 181.96 177.23 183.44 176.15 181.61 176.15Z" fill="#808080" stroke="#808080" stroke-width="0.82" stroke-linejoin="bevel"/>
<path d="M197.1 183.34 196.53 185.08 194.7 185.08 196.18 186.16 195.62 187.91 197.1 186.83 198.58 187.91 198.02 186.16 199.5 185.08 197.67 185.08Z" fill="#808080" stroke="#808080" stroke-width="0.82" stroke-linejoin="bevel"/>
<path d="M213.16 201.21 212.59 202.95 210.76 202.95 212.24 204.03 211.68 205.78 213.16 204.7 214.64 205.78 214.08 204.03 215.56 202.95 213.73 202.95Z" fill="#808080" stroke="#808080" stroke-width="0.82" stroke-linejoin="bevel"/>
<path d="M229.22 210.14 228.65 211.89 226.82 211.89 228.3 212.97 227.74 214.71 229.22 213.63 230.7 214.71 230.14 212.97 231.62 211.89 229.79 211.89Z" fill="#808080" stroke="#808080" stroke-width="0.82" stroke-linejoin="bevel"/>
<path d="M245.28 228.02 244.71 229.76 242.88 229.76 244.36 230.84 243.8 232.58 245.28 231.5 246.76 232.58 246.2 230.84 247.68 229.76 245.85 229.76Z" fill="#808080" stroke="#808080" stroke-width="0.82" stroke-linejoin="bevel"/>
<path d="M261.34 236.95 260.77 238.69 258.94 238.69 260.42 239.77 259.86 241.52 261.34 240.44 262.82 241.52 262.26 239.77 263.74 238.69 261.91 238.69Z" fill="#808080" stroke="#808080" stroke-width="0.82" stroke-linejoin="bevel"/>
<path d="M277.4 254.82 276.83 256.56 275 256.56 276.48 257.64 275.92 259.39 277.4 258.31 278.88 259.39 278.32 257.64 279.8 256.56 277.97 256.56Z" fill="#808080" stroke="#808080" stroke-width="0.82" stroke-linejoin="bevel"/>
<path d="M293.46 263.76 292.89 265.5 291.06 265.5 292.54 266.58 291.98 268.32 293.46 267.24 294.94 268.32 294.38 266.58 295.86 265.5 294.03 265.5Z" fill="#808080" stroke="#808080" stroke-width="0.82" stroke-linejoin="bevel"/>
<path d="M309.52 281.62 308.95 283.37 307.12 283.37 308.6 284.45 308.04 286.19 309.52 285.11 311 286.19 310.44 284.45 311.92 283.37 310.09 283.37Z" fill="#808080" stroke="#808080" stroke-width="0.82" stroke-linejoin="bevel"/>
<path d="M325.58 290.56 325.01 292.3 323.18 292.3 324.66 293.38 324.1 295.13 325.58 294.05 327.06 295.13 326.5 293.38 327.98 292.3 326.15 292.3Z" fill="#808080" stroke="#808080" stroke-width="0.82" stroke-linejoin="bevel"/>
<path d="M341.64 308.43 341.07 310.17 339.24 310.17 340.72 311.25 340.16 313 341.64 311.92 343.12 313 342.56 311.25 344.04 310.17 342.21 310.17Z" fill="#808080" stroke="#808080" stroke-width="0.82" stroke-linejoin="bevel"/>
<path d="M357.7 317.37 357.13 319.11 355.3 319.11 356.78 320.19 356.22 321.93 357.7 320.85 359.18 321.93 358.62 320.19 360.1 319.11 358.27 319.11Z" fill="#808080" stroke="#808080" stroke-width="0.82" stroke-linejoin="bevel"/>
<path d="M373.76 326.3 373.19 328.04 371.36 328.04 372.84 329.12 372.28 330.87 373.76 329.79 375.24 330.87 374.68 329.12 376.16 328.04 374.33 328.04Z" fill="#808080" stroke="#808080" stroke-width="0.82" stroke-linejoin="bevel"/>
<path d="M389.82 344.17 389.25 345.91 387.42 345.91 388.9 346.99 388.34 348.74 389.82 347.66 391.3 348.74 390.74 346.99 392.22 345.91 390.39 345.91Z" fill="#808080" stroke="#808080" stroke-width="0.82" stroke-linejoin="bevel"/>
<path d="M405.88 353.11 405.31 354.85 403.48 354.85 404.96 355.93 404.4 357.67 405.88 356.59 407.36 357.67 406.8 355.93 408.28 354.85 406.45 354.85Z" fill="#808080" stroke="#808080" stroke-width="0.82" stroke-linejoin="bevel"/>
<path d="M421.94 362.04 421.37 363.78 419.54 363.78 421.02 364.86 420.46 366.61 421.94 365.53 423.42 366.61 422.86 364.86 424.34 363.78 422.51 363.78Z" fill="#808080" stroke="#808080" stroke-width="0.82" stroke-linejoin="bevel"/>
<path d="M438 370.98 437.43 372.72 435.6 372.72 437.08 373.8 436.52 375.54 438 374.46 439.48 375.54 438.92 373.8 440.4 372.72 438.57 372.72Z" fill="#808080" stroke="#808080" stroke-width="0.82" stroke-linejoin="bevel"/>
<path d="M454.06 379.91 453.49 381.65 451.66 381.65 453.14 382.73 452.58 384.48 454.06 383.4 455.54 384.48 454.98 382.73 456.46 381.65 454.63 381.65Z" fill="#808080" stroke="#808080" stroke-width="0.82" stroke-linejoin="bevel"/>
<path d="M470.12 388.85 469.55 390.59 467.72 390.59 469.2 391.67 468.64 393.41 470.12 392.33 471.6 393.41 471.04 391.67 472.52 390.59 470.69 390.59Z" fill="#808080" stroke="#808080" stroke-width="0.82" stroke-linejoin="bevel"/>
<path d="M486.18 397.78 485.61 399.52 483.78 399.52 485.26 400.6 484.7 402.35 486.18 401.27 487.66 402.35 487.1 400.6 488.58 399.52 486.75 399.52Z" fill="#808080" stroke="#808080" stroke-width="0.82" stroke-linejoin="bevel"/>
<path d="M502.24 397.78 501.67 399.52 499.84 399.52 501.32 400.6 500.76 402.35 502.24 401.27 503.72 402.35 503.16 400.6 504.64 399.52 502.81 399.52Z" fill="#808080" stroke="#808080" stroke-width="0.82" stroke-linejoin="bevel"/>
<path d="M518.3 406.72 517.73 408.46 515.9 408.46 517.38 409.54 516.82 411.28 518.3 410.2 519.78 411.28 519.22 409.54 520.7 408.46 518.87 408.46Z" fill="#808080" stroke="#808080" stroke-width="0.82" stroke-linejoin="bevel"/>
<path d="M534.36 406.72 533.79 408.46 531.96 408.46 533.44 409.54 532.88 411.28 534.36 410.2 535.84 411.28 535.28 409.54 536.76 408.46 534.93 408.46Z" fill="#808080" stroke="#808080" stroke-width="0.82" stroke-linejoin="bevel"/>
<path d="M550.42 406.72 549.85 408.46 548.02 408.46 549.5 409.54 548.94 411.28 550.42 410.2 551.9 411.28 551.34 409.54 552.82 408.46 550.99 408.46Z" fill="#808080" stroke="#808080" stroke-width="0.82" stroke-linejoin="bevel"/>
<path d="M566.48 415.65 565.91 417.39 564.08 417.39 565.56 418.47 565 420.22 566.48 419.14 567.96 420.22 567.4 418.47 568.88 417.39 567.05 417.39Z" fill="#808080" stroke="#808080" stroke-width="0.82" stroke-linejoin="bevel"/>
<path d="M582.54 415.65 581.97 417.39 580.14 417.39 581.62 418.47 581.06 420.22 582.54 419.14 584.02 420.22 583.46 418.47 584.94 417.39 583.11 417.39Z" fill="#808080" stroke="#808080" stroke-width="0.82" stroke-linejoin="bevel"/>
<path d="M598.6 415.65 598.03 417.39 596.2 417.39 597.68 418.47 597.12 420.22 598.6 419.14 600.08 420.22 599.52 418.47 601 417.39 599.17 417.39Z" fill="#808080" stroke="#808080" stroke-width="0.82" stroke-linejoin="bevel"/>
<path d="M614.66 424.59 614.09 426.33 612.26 426.33 613.74 427.41 613.18 429.15 614.66 428.07 616.14 429.15 615.58 427.41 617.06 426.33 615.23 426.33Z" fill="#808080" stroke="#808080" stroke-width="0.82" stroke-linejoin="bevel"/>
<path d="M630.72 424.59 630.15 426.33 628.32 426.33 629.8 427.41 629.24 429.15 630.72 428.07 632.2 429.15 631.64 427.41 633.12 426.33 631.29 426.33Z" fill="#808080" stroke="#808080" stroke-width="0.82" stroke-linejoin="bevel"/>
<path d="M646.78 424.59 646.21 426.33 644.38 426.33 645.86 427.41 645.3 429.15 646.78 428.07 648.26 429.15 647.7 427.41 649.18 426.33 647.35 426.33Z" fill="#808080" stroke="#808080" stroke-width="0.82" stroke-linejoin="bevel"/>
<path d="M36.5 33.97L52.56 42.91L68.62 60.78L84.68 78.65L100.74 87.58L116.8 105.45L132.86 114.38L148.92 132.26L164.98 141.19L181.04 159.06L197.1 168L213.16 185.87L229.22 194.8L245.28 212.67L261.34 221.61L277.4 239.48L293.46 248.41L309.52 266.28L325.58 275.22L341.64 293.09L357.7 302.02L373.76 310.96L389.82 328.83L405.88 337.76L421.94 346.7L438 355.63L454.06 364.57L470.12 373.5L486.18 382.44L502.24 382.44L518.3 391.37L534.36 400.31L550.42 400.31L566.48 400.31L582.54 409.24L598.6 409.24L614.66 409.24L630.72 418.18L646.78 418.18" fill="none" stroke="#808000" stroke-width="1.64" stroke-linejoin="round" stroke-linecap="round"/>
<path d="M35.66 31.45 37.34 31.45 37.34 33.13 39.02 33.13 39.02 34.81 37.34 34.81 37.34 36.5 35.66 36.5 35.66 34.81 33.98 34.81 33.98 33.13 35.66 33.13Z" fill="#808000" stroke="#808000" stroke-width="0.82" stroke-linejoin="miter"/>
<path d="M51.72 40.38 53.4 40.38 53.4 42.06 55.09 42.06 55.09 43.75 53.4 43.75 53.4 45.43 51.72 45.43 51.72 43.75 50.04 43.75 50.04 42.06 51.72 42.06Z" fill="#808000" stroke="#808000" stroke-width="0.82" stroke-linejoin="miter"/>
<path d="M67.78 58.25 69.46 58.25 69.46 59.93 71.15 59.93 71.15 61.62 69.46 61.62 69.46 63.3 67.78 63.3 67.78 61.62 66.09 61.62 66.09 59.93 67.78 59.93Z" fill="#808000" stroke="#808000" stroke-width="0.82" stroke-linejoin="miter"/>
<path d="M83.84 76.12 85.52 76.12 85.52 77.8 87.2 77.8 87.2 79.49 85.52 79.49 85.52 81.17 83.84 81.17 83.84 79.49 82.15 79.49 82.15 77.8 83.84 77.8Z" fill="#808000" stroke="#808000" stroke-width="0.82" stroke-linejoin="miter"/>
<path d="M99.9 85.06 101.58 85.06 101.58 86.74 103.27 86.74 103.27 88.42 101.58 88.42 101.58 90.11 99.9 90.11 99.9 88.42 98.21 88.42 98.21 86.74 99.9 86.74Z" fill="#808000" stroke="#808000" stroke-width="0.82" stroke-linejoin="miter"/>
<path d="M115.96 102.92 117.64 102.92 117.64 104.61 119.33 104.61 119.33 106.29 117.64 106.29 117.64 107.97 115.96 107.97 115.96 106.29 114.27 106.29 114.27 104.61 115.96 104.61Z" fill="#808000" stroke="#808000" stroke-width="0.82" stroke-linejoin="miter"/>
<path d="M132.02 111.86 133.7 111.86 133.7 113.54 135.38 113.54 135.38 115.23 133.7 115.23 133.7 116.91 132.02 116.91 132.02 115.23 130.33 115.23 130.33 113.54 132.02 113.54Z" fill="#808000" stroke="#808000" stroke-width="0.82" stroke-linejoin="miter"/>
<path d="M148.08 129.73 149.76 129.73 149.76 131.41 151.44 131.41 151.44 133.1 149.76 133.1 149.76 134.78 148.08 134.78 148.08 133.1 146.39 133.1 146.39 131.41 148.08 131.41Z" fill="#808000" stroke="#808000" stroke-width="0.82" stroke-linejoin="miter"/>
<path d="M164.14 138.67 165.82 138.67 165.82 140.35 167.5 140.35 167.5 142.03 165.82 142.03 165.82 143.72 164.14 143.72 164.14 142.03 162.45 142.03 162.45 140.35 164.14 140.35Z" fill="#808000" stroke="#808000" stroke-width="0.82" stroke-linejoin="miter"/>
<path d="M180.2 156.53 181.88 156.53 181.88 158.22 183.56 158.22 183.56 159.9 181.88 159.9 181.88 161.59 180.2 161.59 180.2 159.9 178.51 159.9 178.51 158.22 180.2 158.22Z" fill="#808000" stroke="#808000" stroke-width="0.82" stroke-linejoin="miter"/>
<path d="M196.26 165.47 197.94 165.47 197.94 167.15 199.62 167.15 199.62 168.84 197.94 168.84 197.94 170.52 196.26 170.52 196.26 168.84 194.57 168.84 194.57 167.15 196.26 167.15Z" fill="#808000" stroke="#808000" stroke-width="0.82" stroke-linejoin="miter"/>
<path d="M212.32 183.34 214 183.34 214 185.02 215.69 185.02 215.69 186.71 214 186.71 214 188.39 212.32 188.39 212.32 186.71 210.63 186.71 210.63 185.02 212.32 185.02Z" fill="#808000" stroke="#808000" stroke-width="0.82" stroke-linejoin="miter"/>
<path d="M228.38 192.28 230.06 192.28 230.06 193.96 231.74 193.96 231.74 195.64 230.06 195.64 230.06 197.33 228.38 197.33 228.38 195.64 226.69 195.64 226.69 193.96 228.38 193.96Z" fill="#808000" stroke="#808000" stroke-width="0.82" stroke-linejoin="miter"/>
<path d="M244.44 210.14 246.12 210.14 246.12 211.83 247.8 211.83 247.8 213.51 246.12 213.51 246.12 215.19 244.44 215.19 244.44 213.51 242.75 213.51 242.75 211.83 244.44 211.83Z" fill="#808000" stroke="#808000" stroke-width="0.82" stroke-linejoin="miter"/>
<path d="M260.5 219.08 262.18 219.08 262.18 220.76 263.86 220.76 263.86 222.45 262.18 222.45 262.18 224.13 260.5 224.13 260.5 222.45 258.81 222.45 258.81 220.76 260.5 220.76Z" fill="#808000" stroke="#808000" stroke-width="0.82" stroke-linejoin="miter"/>
<path d="M276.56 236.95 278.24 236.95 278.24 238.63 279.92 238.63 279.92 240.32 278.24 240.32 278.24 242 276.56 242 276.56 240.32 274.88 240.32 274.88 238.63 276.56 238.63Z" fill="#808000" stroke="#808000" stroke-width="0.82" stroke-linejoin="miter"/>
<path d="M292.62 245.89 294.3 245.89 294.3 247.57 295.98 247.57 295.98 249.25 294.3 249.25 294.3 250.94 292.62 250.94 292.62 249.25 290.94 249.25 290.94 247.57 292.62 247.57Z" fill="#808000" stroke="#808000" stroke-width="0.82" stroke-linejoin="miter"/>
<path d="M308.68 263.76 310.36 263.76 310.36 265.44 312.04 265.44 312.04 267.12 310.36 267.12 310.36 268.81 308.68 268.81 308.68 267.12 307 267.12 307 265.44 308.68 265.44Z" fill="#808000" stroke="#808000" stroke-width="0.82" stroke-linejoin="miter"/>
<path d="M324.74 272.69 326.42 272.69 326.42 274.37 328.1 274.37 328.1 276.06 326.42 276.06 326.42 277.74 324.74 277.74 324.74 276.06 323.06 276.06 323.06 274.37 324.74 274.37Z" fill="#808000" stroke="#808000" stroke-width="0.82" stroke-linejoin="miter"/>
<path d="M340.8 290.56 342.48 290.56 342.48 292.24 344.16 292.24 344.16 293.93 342.48 293.93 342.48 295.61 340.8 295.61 340.8 293.93 339.12 293.93 339.12 292.24 340.8 292.24Z" fill="#808000" stroke="#808000" stroke-width="0.82" stroke-linejoin="miter"/>
<path d="M356.86 299.5 358.54 299.5 358.54 301.18 360.22 301.18 360.22 302.86 358.54 302.86 358.54 304.55 356.86 304.55 356.86 302.86 355.18 302.86 355.18 301.18 356.86 301.18Z" fill="#808000" stroke="#808000" stroke-width="0.82" stroke-linejoin="miter"/>
<path d="M372.92 308.43 374.6 308.43 374.6 310.11 376.28 310.11 376.28 311.8 374.6 311.8 374.6 313.48 372.92 313.48 372.92 311.8 371.24 311.8 371.24 310.11 372.92 310.11Z" fill="#808000" stroke="#808000" stroke-width="0.82" stroke-linejoin="miter"/>
<path d="M388.98 326.3 390.66 326.3 390.66 327.98 392.34 327.98 392.34 329.67 390.66 329.67 390.66 331.35 388.98 331.35 388.98 329.67 387.3 329.67 387.3 327.98 388.98 327.98Z" fill="#808000" stroke="#808000" stroke-width="0.82" stroke-linejoin="miter"/>
<path d="M405.04 335.24 406.72 335.24 406.72 336.92 408.4 336.92 408.4 338.6 406.72 338.6 406.72 340.28 405.04 340.28 405.04 338.6 403.36 338.6 403.36 336.92 405.04 336.92Z" fill="#808000" stroke="#808000" stroke-width="0.82" stroke-linejoin="miter"/>
<path d="M421.1 344.17 422.78 344.17 422.78 345.85 424.46 345.85 424.46 347.54 422.78 347.54 422.78 349.22 421.1 349.22 421.1 347.54 419.41 347.54 419.41 345.85 421.1 345.85Z" fill="#808000" stroke="#808000" stroke-width="0.82" stroke-linejoin="miter"/>
<path d="M437.16 353.11 438.84 353.11 438.84 354.79 440.52 354.79 440.52 356.47 438.84 356.47 438.84 358.15 437.16 358.15 437.16 356.47 435.47 356.47 435.47 354.79 437.16 354.79Z" fill="#808000" stroke="#808000" stroke-width="0.82" stroke-linejoin="miter"/>
<path d="M453.22 362.04 454.9 362.04 454.9 363.72 456.58 363.72 456.58 365.41 454.9 365.41 454.9 367.09 453.22 367.09 453.22 365.41 451.53 365.41 451.53 363.72 453.22 363.72Z" fill="#808000" stroke="#808000" stroke-width="0.82" stroke-linejoin="miter"/>
<path d="M469.28 370.98 470.96 370.98 470.96 372.66 472.64 372.66 472.64 374.34 470.96 374.34 470.96 376.02 469.28 376.02 469.28 374.34 467.59 374.34 467.59 372.66 469.28 372.66Z" fill="#808000" stroke="#808000" stroke-width="0.82" stroke-linejoin="miter"/>
<path d="M485.34 379.91 487.02 379.91 487.02 381.59 488.7 381.59 488.7 383.28 487.02 383.28 487.02 384.96 485.34 384.96 485.34 383.28 483.65 383.28 483.65 381.59 485.34 381.59Z" fill="#808000" stroke="#808000" stroke-width="0.82" stroke-linejoin="miter"/>
<path d="M501.4 379.91 503.08 379.91 503.08 381.59 504.76 381.59 504.76 383.28 503.08 383.28 503.08 384.96 501.4 384.96 501.4 383.28 499.71 383.28 499.71 381.59 501.4 381.59Z" fill="#808000" stroke="#808000" stroke-width="0.82" stroke-linejoin="miter"/>
<path d="M517.46 388.85 519.14 388.85 519.14 390.53 520.82 390.53 520.82 392.21 519.14 392.21 519.14 393.89 517.46 393.89 517.46 392.21 515.77 392.21 515.77 390.53 517.46 390.53Z" fill="#808000" stroke="#808000" stroke-width="0.82" stroke-linejoin="miter"/>
<path d="M533.52 397.78 535.2 397.78 535.2 399.46 536.88 399.46 536.88 401.15 535.2 401.15 535.2 402.83 533.52 402.83 533.52 401.15 531.83 401.15 531.83 399.46 533.52 399.46Z" fill="#808000" stroke="#808000" stroke-width="0.82" stroke-linejoin="miter"/>
<path d="M549.58 397.78 551.26 397.78 551.26 399.46 552.94 399.46 552.94 401.15 551.26 401.15 551.26 402.83 549.58 402.83 549.58 401.15 547.89 401.15 547.89 399.46 549.58 399.46Z" fill="#808000" stroke="#808000" stroke-width="0.82" stroke-linejoin="miter"/>
<path d="M565.64 397.78 567.32 397.78 567.32 399.46 569 399.46 569 401.15 567.32 401.15 567.32 402.83 565.64 402.83 565.64 401.15 563.95 401.15 563.95 399.46 565.64 399.46Z" fill="#808000" stroke="#808000" stroke-width="0.82" stroke-linejoin="miter"/>
<path d="M581.7 406.72 583.38 406.72 583.38 408.4 585.06 408.4 585.06 410.08 583.38 410.08 583.38 411.76 581.7 411.76 581.7 410.08 580.01 410.08 580.01 408.4 581.7 408.4Z" fill="#808000" stroke="#808000" stroke-width="0.82" stroke-linejoin="miter"/>
<path d="M597.76 406.72 599.44 406.72 599.44 408.4 601.12 408.4 601.12 410.08 599.44 410.08 599.44 411.76 597.76 411.76 597.76 410.08 596.07 410.08 596.07 408.4 597.76 408.4Z" fill="#808000" stroke="#808000" stroke-width="0.82" stroke-linejoin="miter"/>
<path d="M613.82 406.72 615.5 406.72 615.5 408.4 617.18 408.4 617.18 410.08 615.5 410.08 615.5 411.76 613.82 411.76 613.82 410.08 612.13 410.08 612.13 408.4 613.82 408.4Z" fill="#808000" stroke="#808000" stroke-width="0.82" stroke-linejoin="miter"/>
<path d="M629.88 415.65 631.56 415.65 631.56 417.33 633.24 417.33 633.24 419.02 631.56 419.02 631.56 420.7 629.88 420.7 629.88 419.02 628.19 419.02 628.19 417.33 629.88 417.33Z" fill="#808000" stroke="#808000" stroke-width="0.82" stroke-linejoin="miter"/>
<path d="M645.94 415.65 647.62 415.65 647.62 417.33 649.3 417.33 649.3 419.02 647.62 419.02 647.62 420.7 645.94 420.7 645.94 419.02 644.25 419.02 644.25 417.33 645.94 417.33Z" fill="#808000" stroke="#808000" stroke-width="0.82" stroke-linejoin="miter"/>
<path d="M36.5 78.65L52.56 96.52L68.62 105.45L84.68 123.32L100.74 141.19L116.8 150.13L132.86 168L148.92 176.93L164.98 194.8L181.04 203.74L197.1 221.61L213.16 230.54L229.22 248.41L245.28 257.35L261.34 266.28L277.4 284.15L293.46 293.09L309.52 310.96L325.58 319.89L341.64 337.76L357.7 346.7L373.76 355.63L389.82 364.57L405.88 373.5L421.94 382.44L438 391.37L454.06 400.31L470.12 400.31L486.18 409.24L502.24 409.24L518.3 418.18L534.36 418.18L550.42 427.11L566.48 427.11L582.54 427.11L598.6 427.11L614.66 436.05L630.72 436.05L646.78 436.05" fill="none" stroke="#00ffff" stroke-width="1.64" stroke-linejoin="round" stroke-linecap="round"/>
<path d="M35.24 76.12 36.5 77.38 37.76 76.12 39.02 77.38 37.76 78.65 39.02 79.91 37.76 81.17 36.5 79.91 35.24 81.17 33.98 79.91 35.24 78.65 33.98 77.38Z" fill="#00ffff" stroke="#00ffff" stroke-width="0.82" stroke-linejoin="miter"/>
<path d="M51.3 93.99 52.56 95.25 53.82 93.99 55.09 95.25 53.82 96.52 55.09 97.78 53.82 99.04 52.56 97.78 51.3 99.04 50.04 97.78 51.3 96.52 50.04 95.25Z" fill="#00ffff" stroke="#00ffff" stroke-width="0.82" stroke-linejoin="miter"/>
<path d="M67.36 102.92 68.62 104.19 69.88 102.92 71.15 104.19 69.88 105.45 71.15 106.71 69.88 107.97 68.62 106.71 67.36 107.97 66.09 106.71 67.36 105.45 66.09 104.19Z" fill="#00ffff" stroke="#00ffff" stroke-width="0.82" stroke-linejoin="miter"/>
<path d="M83.42 120.79 84.68 122.06 85.94 120.79 87.2 122.06 85.94 123.32 87.2 124.58 85.94 125.84 84.68 124.58 83.42 125.84 82.15 124.58 83.42 123.32 82.15 122.06Z" fill="#00ffff" stroke="#00ffff" stroke-width="0.82" stroke-linejoin="miter"/>
<path d="M99.48 138.67 100.74 139.93 102 138.67 103.27 139.93 102 141.19 103.27 142.45 102 143.72 100.74 142.45 99.48 143.72 98.21 142.45 99.48 141.19 98.21 139.93Z" fill="#00ffff" stroke="#00ffff" stroke-width="0.82" stroke-linejoin="miter"/>
<path d="M115.54 147.6 116.8 148.86 118.06 147.6 119.33 148.86 118.06 150.13 119.33 151.39 118.06 152.65 116.8 151.39 115.54 152.65 114.27 151.39 115.54 150.13 114.27 148.86Z" fill="#00ffff" stroke="#00ffff" stroke-width="0.82" stroke-linejoin="miter"/>
<path d="M131.6 165.47 132.86 166.73 134.12 165.47 135.38 166.73 134.12 168 135.38 169.26 134.12 170.52 132.86 169.26 131.6 170.52 130.33 169.26 131.6 168 130.33 166.73Z" fill="#00ffff" stroke="#00ffff" stroke-width="0.82" stroke-linejoin="miter"/>
<path d="M147.66 174.41 148.92 175.67 150.18 174.41 151.44 175.67 150.18 176.93 151.44 178.19 150.18 179.46 148.92 178.19 147.66 179.46 146.39 178.19 147.66 176.93 146.39 175.67Z" fill="#00ffff" stroke="#00ffff" stroke-width="0.82" stroke-linejoin="miter"/>
<path d="M163.72 192.28 164.98 193.54 166.24 192.28 167.5 193.54 166.24 194.8 167.5 196.06 166.24 197.33 164.98 196.06 163.72 197.33 162.45 196.06 163.72 194.8 162.45 193.54Z" fill="#00ffff" stroke="#00ffff" stroke-width="0.82" stroke-linejoin="miter"/>
<path d="M179.78 201.21 181.04 202.47 182.3 201.21 183.56 202.47 182.3 203.74 183.56 205 182.3 206.26 181.04 205 179.78 206.26 178.51 205 179.78 203.74 178.51 202.47Z" fill="#00ffff" stroke="#00ffff" stroke-width="0.82" stroke-linejoin="miter"/>
<path d="M195.84 219.08 197.1 220.34 198.36 219.08 199.62 220.34 198.36 221.61 199.62 222.87 198.36 224.13 197.1 222.87 195.84 224.13 194.57 222.87 195.84 221.61 194.57 220.34Z" fill="#00ffff" stroke="#00ffff" stroke-width="0.82" stroke-linejoin="miter"/>
<path d="M211.9 228.02 213.16 229.28 214.42 228.02 215.69 229.28 214.42 230.54 215.69 231.8 214.42 233.07 213.16 231.8 211.9 233.07 210.63 231.8 211.9 230.54 210.63 229.28Z" fill="#00ffff" stroke="#00ffff" stroke-width="0.82" stroke-linejoin="miter"/>
<path d="M227.96 245.89 229.22 247.15 230.48 245.89 231.74 247.15 230.48 248.41 231.74 249.67 230.48 250.94 229.22 249.67 227.96 250.94 226.69 249.67 227.96 248.41 226.69 247.15Z" fill="#00ffff" stroke="#00ffff" stroke-width="0.82" stroke-linejoin="miter"/>
<path d="M244.02 254.82 245.28 256.08 246.54 254.82 247.8 256.08 246.54 257.35 247.8 258.61 246.54 259.87 245.28 258.61 244.02 259.87 242.75 258.61 244.02 257.35 242.75 256.08Z" fill="#00ffff" stroke="#00ffff" stroke-width="0.82" stroke-linejoin="miter"/>
<path d="M260.08 263.76 261.34 265.02 262.6 263.76 263.86 265.02 262.6 266.28 263.86 267.54 262.6 268.81 261.34 267.54 260.08 268.81 258.81 267.54 260.08 266.28 258.81 265.02Z" fill="#00ffff" stroke="#00ffff" stroke-width="0.82" stroke-linejoin="miter"/>
<path d="M276.14 281.62 277.4 282.89 278.66 281.62 279.92 282.89 278.66 284.15 279.92 285.41 278.66 286.67 277.4 285.41 276.14 286.67 274.88 285.41 276.14 284.15 274.88 282.89Z" fill="#00ffff" stroke="#00ffff" stroke-width="0.82" stroke-linejoin="miter"/>
<path d="M292.2 290.56 293.46 291.82 294.72 290.56 295.98 291.82 294.72 293.09 295.98 294.35 294.72 295.61 293.46 294.35 292.2 295.61 290.94 294.35 292.2 293.09 290.94 291.82Z" fill="#00ffff" stroke="#00ffff" stroke-width="0.82" stroke-linejoin="miter"/>
<path d="M308.26 308.43 309.52 309.69 310.78 308.43 312.04 309.69 310.78 310.96 312.04 312.22 310.78 313.48 309.52 312.22 308.26 313.48 307 312.22 308.26 310.96 307 309.69Z" fill="#00ffff" stroke="#00ffff" stroke-width="0.82" stroke-linejoin="miter"/>
<path d="M324.32 317.37 325.58 318.63 326.84 317.37 328.1 318.63 326.84 319.89 328.1 321.15 326.84 322.41 325.58 321.15 324.32 322.41 323.06 321.15 324.32 319.89 323.06 318.63Z" fill="#00ffff" stroke="#00ffff" stroke-width="0.82" stroke-linejoin="miter"/>
<path d="M340.38 335.24 341.64 336.5 342.9 335.24 344.16 336.5 342.9 337.76 344.16 339.02 342.9 340.28 341.64 339.02 340.38 340.28 339.12 339.02 340.38 337.76 339.12 336.5Z" fill="#00ffff" stroke="#00ffff" stroke-width="0.82" stroke-linejoin="miter"/>
<path d="M356.44 344.17 357.7 345.43 358.96 344.17 360.22 345.43 358.96 346.7 360.22 347.96 358.96 349.22 357.7 347.96 356.44 349.22 355.18 347.96 356.44 346.7 355.18 345.43Z" fill="#00ffff" stroke="#00ffff" stroke-width="0.82" stroke-linejoin="miter"/>
<path d="M372.5 353.11 373.76 354.37 375.02 353.11 376.28 354.37 375.02 355.63 376.28 356.89 375.02 358.15 373.76 356.89 372.5 358.15 371.24 356.89 372.5 355.63 371.24 354.37Z" fill="#00ffff" stroke="#00ffff" stroke-width="0.82" stroke-linejoin="miter"/>
<path d="M388.56 362.04 389.82 363.3 391.08 362.04 392.34 363.3 391.08 364.57 392.34 365.83 391.08 367.09 389.82 365.83 388.56 367.09 387.3 365.83 388.56 364.57 387.3 363.3Z" fill="#00ffff" stroke="#00ffff" stroke-width="0.82" stroke-linejoin="miter"/>
<path d="M404.62 370.98 405.88 372.24 407.14 370.98 408.4 372.24 407.14 373.5 408.4 374.76 407.14 376.02 405.88 374.76 404.62 376.02 403.36 374.76 404.62 373.5 403.36 372.24Z" fill="#00ffff" stroke="#00ffff" stroke-width="0.82" stroke-linejoin="miter"/>
<path d="M420.68 379.91 421.94 381.17 423.2 379.91 424.46 381.17 423.2 382.44 424.46 383.7 423.2 384.96 421.94 383.7 420.68 384.96 419.41 383.7 420.68 382.44 419.41 381.17Z" fill="#00ffff" stroke="#00ffff" stroke-width="0.82" stroke-linejoin="miter"/>
<path d="M436.74 388.85 438 390.11 439.26 388.85 440.52 390.11 439.26 391.37 440.52 392.63 439.26 393.89 438 392.63 436.74 393.89 435.47 392.63 436.74 391.37 435.47 390.11Z" fill="#00ffff" stroke="#00ffff" stroke-width="0.82" stroke-linejoin="miter"/>
<path d="M452.8 397.78 454.06 399.04 455.32 397.78 456.58 399.04 455.32 400.31 456.58 401.57 455.32 402.83 454.06 401.57 452.8 402.83 451.53 401.57 452.8 400.31 451.53 399.04Z" fill="#00ffff" stroke="#00ffff" stroke-width="0.82" stroke-linejoin="miter"/>
<path d="M468.86 397.78 470.12 399.04 471.38 397.78 472.64 399.04 471.38 400.31 472.64 401.57 471.38 402.83 470.12 401.57 468.86 402.83 467.59 401.57 468.86 400.31 467.59 399.04Z" fill="#00ffff" stroke="#00ffff" stroke-width="0.82" stroke-linejoin="miter"/>
<path d="M484.92 406.72 486.18 407.98 487.44 406.72 488.7 407.98 487.44 409.24 488.7 410.5 487.44 411.76 486.18 410.5 484.92 411.76 483.65 410.5 484.92 409.24 483.65 407.98Z" fill="#00ffff" stroke="#00ffff" stroke-width="0.82" stroke-linejoin="miter"/>
<path d="M500.98 406.72 502.24 407.98 503.5 406.72 504.76 407.98 503.5 409.24 504.76 410.5 503.5 411.76 502.24 410.5 500.98 411.76 499.71 410.5 500.98 409.24 499.71 407.98Z" fill="#00ffff" stroke="#00ffff" stroke-width="0.82" stroke-linejoin="miter"/>
<path d="M517.04 415.65 518.3 416.91 519.56 415.65 520.82 416.91 519.56 418.18 520.82 419.44 519.56 420.7 518.3 419.44 517.04 420.7 515.77 419.44 517.04 418.18 515.77 416.91Z" fill="#00ffff" stroke="#00ffff" stroke-width="0.82" stroke-linejoin="miter"/>
<path d="M533.1 415.65 534.36 416.91 535.62 415.65 536.88 416.91 535.62 418.18 536.88 419.44 535.62 420.7 534.36 419.44 533.1 420.7 531.83 419.44 533.1 418.18 531.83 416.91Z" fill="#00ffff" stroke="#00ffff" stroke-width="0.82" stroke-linejoin="miter"/>
<path d="M549.16 424.59 550.42 425.85 551.68 424.59 552.94 425.85 551.68 427.11 552.94 428.37 551.68 429.63 550.42 428.37 549.16 429.63 547.89 428.37 549.16 427.11 547.89 425.85Z" fill="#00ffff" stroke="#00ffff" stroke-width="0.82" stroke-linejoin="miter"/>
<path d="M565.22 424.59 566.48 425.85 567.74 424.59 569 425.85 567.74 427.11 569 428.37 567.74 429.63 566.48 428.37 565.22 429.63 563.95 428.37 565.22 427.11 563.95 425.85Z" fill="#00ffff" stroke="#00ffff" stroke-width="0.82" stroke-linejoin="miter"/>
<path d="M581.28 424.59 582.54 425.85 583.8 424.59 585.06 425.85 583.8 427.11 585.06 428.37 583.8 429.63 582.54 428.37 581.28 429.63 580.01 428.37 581.28 427.11 580.01 425.85Z" fill="#00ffff" stroke="#00ffff" stroke-width="0.82" stroke-linejoin="miter"/>
<path d="M597.34 424.59 598.6 425.85 599.86 424.59 601.12 425.85 599.86 427.11 601.12 428.37 599.86 429.63 598.6 428.37 597.34 429.63 596.07 428.37 597.34 427.11 596.07 425.85Z" fill="#00ffff" stroke="#00ffff" stroke-width="0.82" stroke-linejoin="miter"/>
<path d="M613.4 433.52 614.66 434.78 615.92 433.52 617.18 434.78 615.92 436.05 617.18 437.31 615.92 438.57 614.66 437.31 613.4 438.57 612.13 437.31 613.4 436.05 612.13 434.78Z" fill="#00ffff" stroke="#00ffff" stroke-width="0.82" stroke-linejoin="miter"/>
<path d="M629.46 433.52 630.72 434.78 631.98 433.52 633.24 434.78 631.98 436.05 633.24 437.31 631.98 438.57 630.72 437.31 629.46 438.57 628.19 437.31 629.46 436.05 628.19 434.78Z" fill="#00ffff" stroke="#00ffff" stroke-width="0.82" stroke-linejoin="miter"/>
<path d="M645.52 433.52 646.78 434.78 648.04 433.52 649.3 434.78 648.04 436.05 649.3 437.31 648.04 438.57 646.78 437.31 645.52 438.57 644.25 437.31 645.52 436.05 644.25 434.78Z" fill="#00ffff" stroke="#00ffff" stroke-width="0.82" stroke-linejoin="miter"/>
<path d="M36.5 69.71L52.56 78.65L68.62 87.58L84.68 105.45L100.74 123.32L116.8 132.26L132.86 150.13L148.92 159.06L164.98 176.93L181.04 185.87L197.1 203.74L213.16 212.67L229.22 221.61L245.28 239.48L261.34 248.41L277.4 257.35L293.46 275.22L309.52 284.15L325.58 302.02L341.64 310.96L357.7 319.89L373.76 337.76L389.82 346.7L405.88 355.63L421.94 364.57L438 373.5L454.06 382.44L470.12 391.37L486.18 391.37L502.24 400.31L518.3 400.31L534.36 409.24L550.42 409.24L566.48 418.18L582.54 418.18L598.6 418.18L614.66 418.18L630.72 427.11L646.78 427.11" fill="none" stroke="#ff00ff" stroke-width="1.64" stroke-linejoin="round" stroke-linecap="round"/>
<path d="M36.5 67.19 34.31 68.45 34.31 70.97 36.5 72.24 38.69 70.97 38.69 68.45Z" fill="#ff00ff" stroke="#ff00ff" stroke-width="0.82" stroke-linejoin="miter"/>
<path d="M52.56 76.12 50.37 77.38 50.37 79.91 52.56 81.17 54.75 79.91 54.75 77.38Z" fill="#ff00ff" stroke="#ff00ff" stroke-width="0.82" stroke-linejoin="miter"/>
<path d="M68.62 85.06 66.43 86.32 66.43 88.84 68.62 90.11 70.81 88.84 70.81 86.32Z" fill="#ff00ff" stroke="#ff00ff" stroke-width="0.82" stroke-linejoin="miter"/>
<path d="M84.68 102.92 82.49 104.19 82.49 106.71 84.68 107.97 86.87 106.71 86.87 104.19Z" fill="#ff00ff" stroke="#ff00ff" stroke-width="0.82" stroke-linejoin="miter"/>
<path d="M100.74 120.79 98.55 122.06 98.55 124.58 100.74 125.84 102.93 124.58 102.93 122.06Z" fill="#ff00ff" stroke="#ff00ff" stroke-width="0.82" stroke-linejoin="miter"/>
<path d="M116.8 129.73 114.61 130.99 114.61 133.52 116.8 134.78 118.99 133.52 118.99 130.99Z" fill="#ff00ff" stroke="#ff00ff" stroke-width="0.82" stroke-linejoin="miter"/>
<path d="M132.86 147.6 130.67 148.86 130.67 151.39 132.86 152.65 135.05 151.39 135.05 148.86Z" fill="#ff00ff" stroke="#ff00ff" stroke-width="0.82" stroke-linejoin="miter"/>
<path d="M148.92 156.53 146.73 157.8 146.73 160.32 148.92 161.59 151.11 160.32 151.11 157.8Z" fill="#ff00ff" stroke="#ff00ff" stroke-width="0.82" stroke-linejoin="miter"/>
<path d="M164.98 174.41 162.79 175.67 162.79 178.19 164.98 179.46 167.17 178.19 167.17 175.67Z" fill="#ff00ff" stroke="#ff00ff" stroke-width="0.82" stroke-linejoin="miter"/>
<path d="M181.04 183.34 178.85 184.6 178.85 187.13 181.04 188.39 183.23 187.13 183.23 184.6Z" fill="#ff00ff" stroke="#ff00ff" stroke-width="0.82" stroke-linejoin="miter"/>
<path d="M197.1 201.21 194.91 202.47 194.91 205 197.1 206.26 199.29 205 199.29 202.47Z" fill="#ff00ff" stroke="#ff00ff" stroke-width="0.82" stroke-linejoin="miter"/>
<path d="M213.16 210.14 210.97 211.41 210.97 213.93 213.16 215.19 215.35 213.93 215.35 211.41Z" fill="#ff00ff" stroke="#ff00ff" stroke-width="0.82" stroke-linejoin="miter"/>
<path d="M229.22 219.08 227.03 220.34 227.03 222.87 229.22 224.13 231.41 222.87 231.41 220.34Z" fill="#ff00ff" stroke="#ff00ff" stroke-width="0.82" stroke-linejoin="miter"/>
<path d="M245.28 236.95 243.09 238.21 243.09 240.74 245.28 242 247.47 240.74 247.47 238.21Z" fill="#ff00ff" stroke="#ff00ff" stroke-width="0.82" stroke-linejoin="miter"/>
<path d="M261.34 245.89 259.15 247.15 259.15 249.67 261.34 250.94 263.53 249.67 263.53 247.15Z" fill="#ff00ff" stroke="#ff00ff" stroke-width="0.82" stroke-linejoin="miter"/>
<path d="M277.4 254.82 275.21 256.08 275.21 258.61 277.4 259.87 279.59 258.61 279.59 256.08Z" fill="#ff00ff" stroke="#ff00ff" stroke-width="0.82" stroke-linejoin="miter"/>
<path d="M293.46 272.69 291.27 273.95 291.27 276.48 293.46 277.74 295.65 276.48 295.65 273.95Z" fill="#ff00ff" stroke="#ff00ff" stroke-width="0.82" stroke-linejoin="miter"/>
<path d="M309.52 281.62 307.33 282.89 307.33 285.41 309.52 286.67 311.71 285.41 311.71 282.89Z" fill="#ff00ff" stroke="#ff00ff" stroke-width="0.82" stroke-linejoin="miter"/>
<path d="M325.58 299.5 323.39 300.76 323.39 303.28 325.58 304.55 327.77 303.28 327.77 300.76Z" fill="#ff00ff" stroke="#ff00ff" stroke-width="0.82" stroke-linejoin="miter"/>
<path d="M341.64 308.43 339.45 309.69 339.45 312.22 341.64 313.48 343.83 312.22 343.83 309.69Z" fill="#ff00ff" stroke="#ff00ff" stroke-width="0.82" stroke-linejoin="miter"/>
<path d="M357.7 317.37 355.51 318.63 355.51 321.15 357.7 322.41 359.89 321.15 359.89 318.63Z" fill="#ff00ff" stroke="#ff00ff" stroke-width="0.82" stroke-linejoin="miter"/>
<path d="M373.76 335.24 371.57 336.5 371.57 339.02 373.76 340.28 375.95 339.02 375.95 336.5Z" fill="#ff00ff" stroke="#ff00ff" stroke-width="0.82" stroke-linejoin="miter"/>
<path d="M389.82 344.17 387.63 345.43 387.63 347.96 389.82 349.22 392.01 347.96 392.01 345.43Z" fill="#ff00ff" stroke="#ff00ff" stroke-width="0.82" stroke-linejoin="miter"/>
<path d="M405.88 353.11 403.69 354.37 403.69 356.89 405.88 358.15 408.07 356.89 408.07 354.37Z" fill="#ff00ff" stroke="#ff00ff" stroke-width="0.82" stroke-linejoin="miter"/>
<path d="M421.94 362.04 419.75 363.3 419.75 365.83 421.94 367.09 424.13 365.83 424.13 363.3Z" fill="#ff00ff" stroke="#ff00ff" stroke-width="0.82" stroke-linejoin="miter"/>
<path d="M438 370.98 435.81 372.24 435.81 374.76 438 376.02 440.19 374.76 440.19 372.24Z" fill="#ff00ff" stroke="#ff00ff" stroke-width="0.82" stroke-linejoin="miter"/>
<path d="M454.06 379.91 451.87 381.17 451.87 383.7 454.06 384.96 456.25 383.7 456.25 381.17Z" fill="#ff00ff" stroke="#ff00ff" stroke-width="0.82" stroke-linejoin="miter"/>
<path d="M470.12 388.85 467.93 390.11 467.93 392.63 470.12 393.89 472.31 392.63 472.31 390.11Z" fill="#ff00ff" stroke="#ff00ff" stroke-width="0.82" stroke-linejoin="miter"/>
<path d="M486.18 388.85 483.99 390.11 483.99 392.63 486.18 393.89 488.37 392.63 488.37 390.11Z" fill="#ff00ff" stroke="#ff00ff" stroke-width="0.82" stroke-linejoin="miter"/>
<path d="M502.24 397.78 500.05 399.04 500.05 401.57 502.24 402.83 504.43 401.57 504.43 399.04Z" fill="#ff00ff" stroke="#ff00ff" stroke-width="0.82" stroke-linejoin="miter"/>
<path d="M518.3 397.78 516.11 399.04 516.11 401.57 518.3 402.83 520.49 401.57 520.49 399.04Z" fill="#ff00ff" stroke="#ff00ff" stroke-width="0.82" stroke-linejoin="miter"/>
<path d="M534.36 406.72 532.17 407.98 532.17 410.5 534.36 411.76 536.55 410.5 536.55 407.98Z" fill="#ff00ff" stroke="#ff00ff" stroke-width="0.82" stroke-linejoin="miter"/>
<path d="M550.42 406.72 548.23 407.98 548.23 410.5 550.42 411.76 552.61 410.5 552.61 407.98Z" fill="#ff00ff" stroke="#ff00ff" stroke-width="0.82" stroke-linejoin="miter"/>
<path d="M566.48 415.65 564.29 416.91 564.29 419.44 566.48 420.7 568.67 419.44 568.67 416.91Z" fill="#ff00ff" stroke="#ff00ff" stroke-width="0.82" stroke-linejoin="miter"/>
<path d="M582.54 415.65 580.35 416.91 580.35 419.44 582.54 420.7 584.73 419.44 584.73 416.91Z" fill="#ff00ff" stroke="#ff00ff" stroke-width="0.82" stroke-linejoin="miter"/>
<path d="M598.6 415.65 596.41 416.91 596.41 419.44 598.6 420.7 600.79 419.44 600.79 416.91Z" fill="#ff00ff" stroke="#ff00ff" stroke-width="0.82" stroke-linejoin="miter"/>
<path d="M614.66 415.65 612.47 416.91 612.47 419.44 614.66 420.7 616.85 419.44 616.85 416.91Z" fill="#ff00ff" stroke="#ff00ff" stroke-width="0.82" stroke-linejoin="miter"/>
<path d="M630.72 424.59 628.53 425.85 628.53 428.37 630.72 429.63 632.91 428.37 632.91 425.85Z" fill="#ff00ff" stroke="#ff00ff" stroke-width="0.82" stroke-linejoin="miter"/>
<path d="M646.78 424.59 644.59 425.85 644.59 428.37 646.78 429.63 648.97 428.37 648.97 425.85Z" fill="#ff00ff" stroke="#ff00ff" stroke-width="0.82" stroke-linejoin="miter"/>
</g>
<rect x="36.4" y="16" width="642.4" height="447" fill="none" stroke="#000" stroke-width="0.75"/>
<line x1="36.4" y1="463" x2="36.4" y2="465.9" stroke="#000" stroke-width="0.75"/>
<line x1="117.1" y1="463" x2="117.1" y2="465.9" stroke="#000" stroke-width="0.75"/>
<line x1="197" y1="463" x2="197" y2="465.9" stroke="#000" stroke-width="0.75"/>
<line x1="277.5" y1="463" x2="277.5" y2="465.9" stroke="#000" stroke-width="0.75"/>
<line x1="357.8" y1="463" x2="357.8" y2="465.9" stroke="#000" stroke-width="0.75"/>
<line x1="438" y1="463" x2="438" y2="465.9" stroke="#000" stroke-width="0.75"/>
<line x1="518.5" y1="463" x2="518.5" y2="465.9" stroke="#000" stroke-width="0.75"/>
<line x1="599" y1="463" x2="599" y2="465.9" stroke="#000" stroke-width="0.75"/>
<line x1="678.8" y1="463" x2="678.8" y2="465.9" stroke="#000" stroke-width="0.75"/>
<line x1="33.5" y1="463" x2="36.4" y2="463" stroke="#000" stroke-width="0.75"/>
<line x1="33.5" y1="373.5" x2="36.4" y2="373.5" stroke="#000" stroke-width="0.75"/>
<line x1="33.5" y1="283.6" x2="36.4" y2="283.6" stroke="#000" stroke-width="0.75"/>
<line x1="33.5" y1="195.2" x2="36.4" y2="195.2" stroke="#000" stroke-width="0.75"/>
<line x1="33.5" y1="105.5" x2="36.4" y2="105.5" stroke="#000" stroke-width="0.75"/>
<line x1="33.5" y1="16" x2="36.4" y2="16" stroke="#000" stroke-width="0.75"/>
<text y="475.76" font-size="9.64" fill="#1a1a1a" stroke="#1a1a1a" stroke-width="0.14"><tspan x="28.46" textLength="16.08" lengthAdjust="spacingAndGlyphs">−20</tspan></text>
<text y="475.76" font-size="9.64" fill="#1a1a1a" stroke="#1a1a1a" stroke-width="0.14"><tspan x="108.76" textLength="16.08" lengthAdjust="spacingAndGlyphs">−15</tspan></text>
<text y="475.76" font-size="9.64" fill="#1a1a1a" stroke="#1a1a1a" stroke-width="0.14"><tspan x="189.06" textLength="16.08" lengthAdjust="spacingAndGlyphs">−10</tspan></text>
<text y="475.76" font-size="9.64" fill="#1a1a1a" stroke="#1a1a1a" stroke-width="0.14"><tspan x="271.78" textLength="11.23" lengthAdjust="spacingAndGlyphs">−5</tspan></text>
<text y="475.76" font-size="9.64" fill="#1a1a1a" stroke="#1a1a1a" stroke-width="0.14"><tspan x="355.28" textLength="4.85" lengthAdjust="spacingAndGlyphs">0</tspan></text>
<text y="475.76" font-size="9.64" fill="#1a1a1a" stroke="#1a1a1a" stroke-width="0.14"><tspan x="435.58" textLength="4.85" lengthAdjust="spacingAndGlyphs">5</tspan></text>
<text y="475.76" font-size="9.64" fill="#1a1a1a" stroke="#1a1a1a" stroke-width="0.14"><tspan x="513.45" textLength="9.7" lengthAdjust="spacingAndGlyphs">10</tspan></text>
<text y="475.76" font-size="9.64" fill="#1a1a1a" stroke="#1a1a1a" stroke-width="0.14"><tspan x="593.75" textLength="9.7" lengthAdjust="spacingAndGlyphs">15</tspan></text>
<text y="475.76" font-size="9.64" fill="#1a1a1a" stroke="#1a1a1a" stroke-width="0.14"><tspan x="674.05" textLength="9.7" lengthAdjust="spacingAndGlyphs">20</tspan></text>
<text y="466.61" font-size="9.64" fill="#1a1a1a" stroke="#1a1a1a" stroke-width="0.14"><tspan x="17.97" textLength="11.99" lengthAdjust="spacingAndGlyphs">0.0</tspan></text>
<text y="377.23" font-size="9.64" fill="#1a1a1a" stroke="#1a1a1a" stroke-width="0.14"><tspan x="17.97" textLength="11.99" lengthAdjust="spacingAndGlyphs">0.1</tspan></text>
<text y="287.85" font-size="9.64" fill="#1a1a1a" stroke="#1a1a1a" stroke-width="0.14"><tspan x="17.97" textLength="11.99" lengthAdjust="spacingAndGlyphs">0.2</tspan></text>
<text y="198.47" font-size="9.64" fill="#1a1a1a" stroke="#1a1a1a" stroke-width="0.14"><tspan x="17.97" textLength="11.99" lengthAdjust="spacingAndGlyphs">0.3</tspan></text>
<text y="109.09" font-size="9.64" fill="#1a1a1a" stroke="#1a1a1a" stroke-width="0.14"><tspan x="17.97" textLength="11.99" lengthAdjust="spacingAndGlyphs">0.4</tspan></text>
<text y="19.71" font-size="9.64" fill="#1a1a1a" stroke="#1a1a1a" stroke-width="0.14"><tspan x="17.97" textLength="11.99" lengthAdjust="spacingAndGlyphs">0.5</tspan></text>
<text y="489.76" font-size="12.16" fill="#1a1a1a" stroke="#1a1a1a" stroke-width="0.14"><tspan x="331.81" textLength="23.84" lengthAdjust="spacingAndGlyphs">SNR</tspan> <tspan x="359.29" textLength="24.1" lengthAdjust="spacingAndGlyphs">(dB)</tspan></text>
<text y="0" font-size="12.16" fill="#1a1a1a" stroke="#1a1a1a" stroke-width="0.14" transform="translate(11.77 239.45) rotate(-90)"><tspan x="-64.48" textLength="39.38" lengthAdjust="spacingAndGlyphs">Missed</tspan> <tspan x="-21.45" textLength="55.73" lengthAdjust="spacingAndGlyphs">Detection</tspan> <tspan x="37.92" textLength="26.56" lengthAdjust="spacingAndGlyphs">Rate</tspan></text>
<text y="11.18" font-size="13.89" fill="#1a1a1a" stroke="#1a1a1a" stroke-width="0.14"><tspan x="191" textLength="45.19" lengthAdjust="spacingAndGlyphs">Missed</tspan> <tspan x="240.37" textLength="63.95" lengthAdjust="spacingAndGlyphs">Detection</tspan> <tspan x="308.5" textLength="30.47" lengthAdjust="spacingAndGlyphs">Rate</tspan> <tspan x="343.16" textLength="18.1" lengthAdjust="spacingAndGlyphs">for</tspan> <tspan x="365.45" textLength="16.32" lengthAdjust="spacingAndGlyphs">All</tspan> <tspan x="385.95" textLength="73.05" lengthAdjust="spacingAndGlyphs">Modulation</tspan> <tspan x="463.18" textLength="59.81" lengthAdjust="spacingAndGlyphs">Schemes</tspan></text>
<rect x="599.2" y="20.9" width="73.9" height="174.1" rx="2" ry="2" fill="#fff" fill-opacity="0.8" stroke="#cccccc" stroke-opacity="0.8" stroke-width="0.82"/>
<line x1="602.4" y1="29.8" x2="622.6" y2="29.8" stroke="#0000ff" stroke-width="1.64"/>
<circle cx="612.8" cy="29.8" r="2.52" fill="#0000ff" stroke="#0000ff" stroke-width="0.82"/>
<text y="33.9" font-size="10.42" fill="#1a1a1a" stroke="#1a1a1a" stroke-width="0.14"><tspan x="631.03" textLength="38.53" lengthAdjust="spacingAndGlyphs">AM-DSB</tspan></text>
<line x1="602.4" y1="45.4" x2="622.6" y2="45.4" stroke="#ffa500" stroke-width="1.64"/>
<path d="M610.27 42.88 615.32 42.88 615.32 47.92 610.27 47.92Z" fill="#ffa500" stroke="#ffa500" stroke-width="0.82" stroke-linejoin="miter"/>
<text y="49.5" font-size="10.42" fill="#1a1a1a" stroke="#1a1a1a" stroke-width="0.14"><tspan x="631.03" textLength="37.23" lengthAdjust="spacingAndGlyphs">AM-SSB</tspan></text>
<line x1="602.4" y1="61" x2="622.6" y2="61" stroke="#008000" stroke-width="1.64"/>
<path d="M612.8 57.43 616.37 61 612.8 64.57 609.23 61Z" fill="#008000" stroke="#008000" stroke-width="0.82" stroke-linejoin="miter"/>
<text y="65.1" font-size="10.42" fill="#1a1a1a" stroke="#1a1a1a" stroke-width="0.14"><tspan x="631.03" textLength="13.86" lengthAdjust="spacingAndGlyphs">FM</tspan></text>
<line x1="602.4" y1="76.6" x2="622.6" y2="76.6" stroke="#ff0000" stroke-width="1.64"/>
<path d="M612.8 74.07 610.27 79.12 615.32 79.12Z" fill="#ff0000" stroke="#ff0000" stroke-width="0.82" stroke-linejoin="miter"/>
<text y="80.7" font-size="10.42" fill="#1a1a1a" stroke="#1a1a1a" stroke-width="0.14"><tspan x="631.03" textLength="25.45" lengthAdjust="spacingAndGlyphs">GFSK</tspan></text>
<line x1="602.4" y1="92.2" x2="622.6" y2="92.2" stroke="#800080" stroke-width="1.64"/>
<path d="M612.8 94.73 610.27 89.67 615.32 89.67Z" fill="#800080" stroke="#800080" stroke-width="0.82" stroke-linejoin="miter"/>
<text y="96.3" font-size="10.42" fill="#1a1a1a" stroke="#1a1a1a" stroke-width="0.14"><tspan x="631.03" textLength="30.52" lengthAdjust="spacingAndGlyphs">CPFSK</tspan></text>
<line x1="602.4" y1="107.8" x2="622.6" y2="107.8" stroke="#a52a2a" stroke-width="1.64"/>
<path d="M610.27 107.8 615.32 105.27 615.32 110.33Z" fill="#a52a2a" stroke="#a52a2a" stroke-width="0.82" stroke-linejoin="miter"/>
<text y="111.9" font-size="10.42" fill="#1a1a1a" stroke="#1a1a1a" stroke-width="0.14"><tspan x="631.03" textLength="24.86" lengthAdjust="spacingAndGlyphs">BPSK</tspan></text>
<line x1="602.4" y1="123.4" x2="622.6" y2="123.4" stroke="#ffc0cb" stroke-width="1.64"/>
<path d="M615.32 123.4 610.27 120.87 610.27 125.92Z" fill="#ffc0cb" stroke="#ffc0cb" stroke-width="0.82" stroke-linejoin="miter"/>
<text y="127.5" font-size="10.42" fill="#1a1a1a" stroke="#1a1a1a" stroke-width="0.14"><tspan x="631.03" textLength="25.83" lengthAdjust="spacingAndGlyphs">QPSK</tspan></text>
<line x1="602.4" y1="139" x2="622.6" y2="139" stroke="#808080" stroke-width="1.64"/>
<path d="M612.8 136.47 612.23 138.22 610.4 138.22 611.88 139.3 611.32 141.04 612.8 139.96 614.28 141.04 613.72 139.3 615.2 138.22 613.37 138.22Z" fill="#808080" stroke="#808080" stroke-width="0.82" stroke-linejoin="bevel"/>
<text y="143.1" font-size="10.42" fill="#1a1a1a" stroke="#1a1a1a" stroke-width="0.14"><tspan x="631.03" textLength="24.38" lengthAdjust="spacingAndGlyphs">8PSK</tspan></text>
<line x1="602.4" y1="154.6" x2="622.6" y2="154.6" stroke="#808000" stroke-width="1.64"/>
<path d="M611.96 152.07 613.64 152.07 613.64 153.76 615.32 153.76 615.32 155.44 613.64 155.44 613.64 157.12 611.96 157.12 611.96 155.44 610.27 155.44 610.27 153.76 611.96 153.76Z" fill="#808000" stroke="#808000" stroke-width="0.82" stroke-linejoin="miter"/>
<text y="158.7" font-size="10.42" fill="#1a1a1a" stroke="#1a1a1a" stroke-width="0.14"><tspan x="631.03" textLength="26.85" lengthAdjust="spacingAndGlyphs">PAM4</tspan></text>
<line x1="602.4" y1="170.2" x2="622.6" y2="170.2" stroke="#00ffff" stroke-width="1.64"/>
<path d="M611.54 167.68 612.8 168.94 614.06 167.68 615.32 168.94 614.06 170.2 615.32 171.46 614.06 172.73 612.8 171.46 611.54 172.73 610.27 171.46 611.54 170.2 610.27 168.94Z" fill="#00ffff" stroke="#00ffff" stroke-width="0.82" stroke-linejoin="miter"/>
<text y="174.3" font-size="10.42" fill="#1a1a1a" stroke="#1a1a1a" stroke-width="0.14"><tspan x="631.03" textLength="34.75" lengthAdjust="spacingAndGlyphs">QAM16</tspan></text>
<line x1="602.4" y1="185.8" x2="622.6" y2="185.8" stroke="#ff00ff" stroke-width="1.64"/>
<path d="M612.8 183.28 610.61 184.54 610.61 187.06 612.8 188.33 614.99 187.06 614.99 184.54Z" fill="#ff00ff" stroke="#ff00ff" stroke-width="0.82" stroke-linejoin="miter"/>
<text y="189.9" font-size="10.42" fill="#1a1a1a" stroke="#1a1a1a" stroke-width="0.14"><tspan x="631.03" textLength="34.75" lengthAdjust="spacingAndGlyphs">QAM64</tspan></text>
</svg></body></html>
